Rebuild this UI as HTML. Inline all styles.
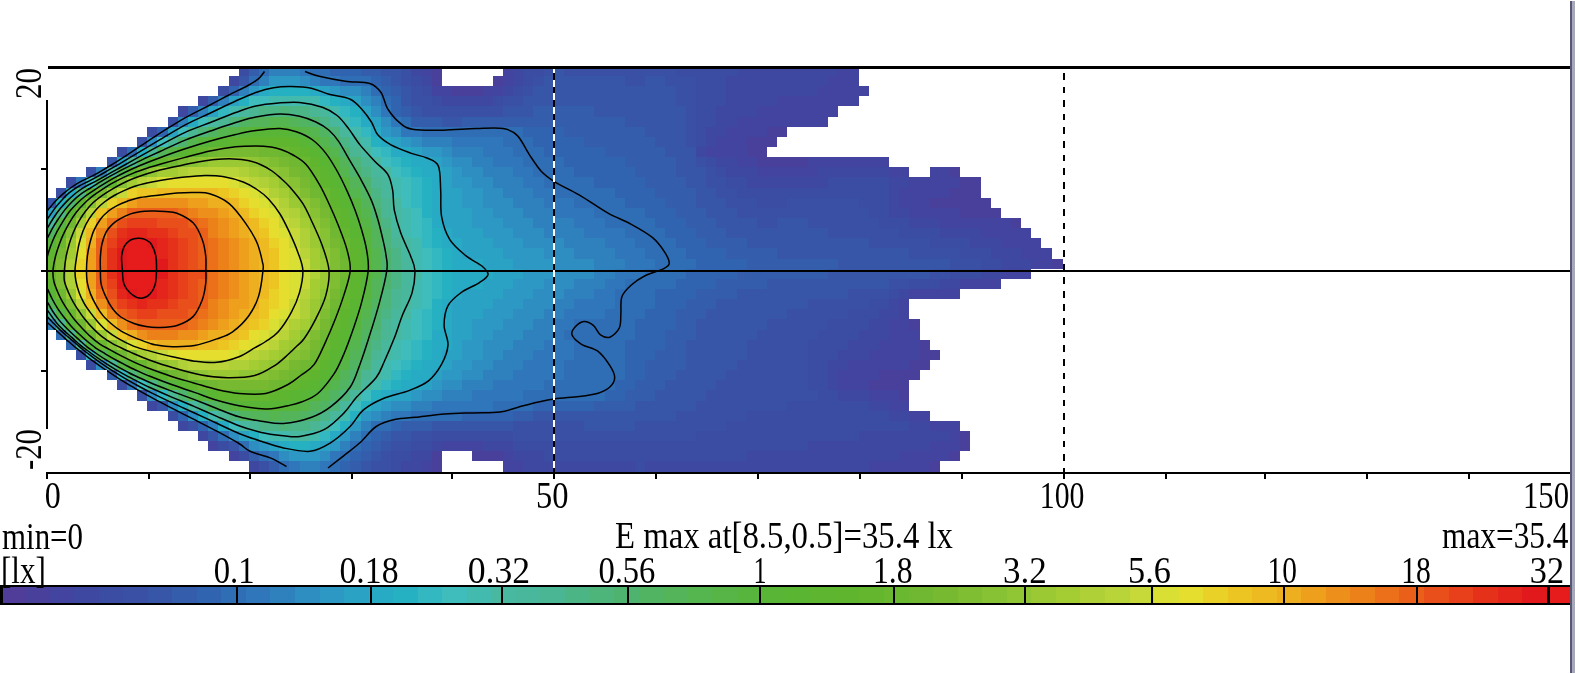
<!DOCTYPE html><html><head><meta charset="utf-8"><title>Isolux</title><style>html,body{margin:0;padding:0;background:#fff}svg{display:block}text{font-family:"Liberation Serif",serif;fill:#000}</style></head><body>
<svg width="1575" height="674" viewBox="0 0 1575 674">
<rect width="1575" height="674" fill="#fff"/>
<g shape-rendering="crispEdges">
<rect x="249" y="461" width="10" height="11" fill="#3e48a1"/>
<rect x="259" y="461" width="10" height="11" fill="#3950a4"/>
<rect x="269" y="461" width="10" height="11" fill="#345dac"/>
<rect x="279" y="461" width="10" height="11" fill="#2f6db5"/>
<rect x="289" y="461" width="11" height="11" fill="#2f77ba"/>
<rect x="300" y="461" width="20" height="11" fill="#2f81be"/>
<rect x="320" y="461" width="10" height="11" fill="#2f77ba"/>
<rect x="330" y="461" width="10" height="11" fill="#2f6db5"/>
<rect x="340" y="461" width="10" height="11" fill="#3064b1"/>
<rect x="350" y="461" width="11" height="11" fill="#345dac"/>
<rect x="361" y="461" width="10" height="11" fill="#3756a7"/>
<rect x="371" y="461" width="20" height="11" fill="#3950a4"/>
<rect x="391" y="461" width="10" height="11" fill="#3b4ca3"/>
<rect x="401" y="461" width="21" height="11" fill="#3e48a1"/>
<rect x="422" y="461" width="10" height="11" fill="#42449f"/>
<rect x="432" y="461" width="10" height="11" fill="#49409c"/>
<rect x="503" y="461" width="20" height="11" fill="#42449f"/>
<rect x="523" y="461" width="112" height="11" fill="#3e48a1"/>
<rect x="635" y="461" width="10" height="11" fill="#3b4ca3"/>
<rect x="645" y="461" width="224" height="11" fill="#3e48a1"/>
<rect x="869" y="461" width="61" height="11" fill="#42449f"/>
<rect x="930" y="461" width="10" height="11" fill="#49409c"/>
<rect x="229" y="451" width="10" height="10" fill="#42449f"/>
<rect x="239" y="451" width="10" height="10" fill="#3b4ca3"/>
<rect x="249" y="451" width="10" height="10" fill="#345dac"/>
<rect x="259" y="451" width="10" height="10" fill="#2f6db5"/>
<rect x="269" y="451" width="10" height="10" fill="#2f77ba"/>
<rect x="279" y="451" width="10" height="10" fill="#2e8dc1"/>
<rect x="289" y="451" width="31" height="10" fill="#2c98c3"/>
<rect x="320" y="451" width="10" height="10" fill="#2e8dc1"/>
<rect x="330" y="451" width="10" height="10" fill="#2f77ba"/>
<rect x="340" y="451" width="10" height="10" fill="#2f6db5"/>
<rect x="350" y="451" width="11" height="10" fill="#3064b1"/>
<rect x="361" y="451" width="10" height="10" fill="#345dac"/>
<rect x="371" y="451" width="10" height="10" fill="#3756a7"/>
<rect x="381" y="451" width="10" height="10" fill="#3950a4"/>
<rect x="391" y="451" width="20" height="10" fill="#3b4ca3"/>
<rect x="411" y="451" width="21" height="10" fill="#3e48a1"/>
<rect x="432" y="451" width="10" height="10" fill="#49409c"/>
<rect x="472" y="451" width="31" height="10" fill="#49409c"/>
<rect x="503" y="451" width="10" height="10" fill="#42449f"/>
<rect x="513" y="451" width="31" height="10" fill="#3e48a1"/>
<rect x="544" y="451" width="203" height="10" fill="#3b4ca3"/>
<rect x="747" y="451" width="152" height="10" fill="#3e48a1"/>
<rect x="899" y="451" width="51" height="10" fill="#42449f"/>
<rect x="950" y="451" width="10" height="10" fill="#49409c"/>
<rect x="208" y="441" width="10" height="10" fill="#42449f"/>
<rect x="218" y="441" width="11" height="10" fill="#3b4ca3"/>
<rect x="229" y="441" width="10" height="10" fill="#3756a7"/>
<rect x="239" y="441" width="10" height="10" fill="#2f6db5"/>
<rect x="249" y="441" width="10" height="10" fill="#2e8dc1"/>
<rect x="259" y="441" width="10" height="10" fill="#2c98c3"/>
<rect x="269" y="441" width="10" height="10" fill="#2aa2c4"/>
<rect x="279" y="441" width="10" height="10" fill="#27aac3"/>
<rect x="289" y="441" width="21" height="10" fill="#26b1c3"/>
<rect x="310" y="441" width="10" height="10" fill="#27aac3"/>
<rect x="320" y="441" width="10" height="10" fill="#2aa2c4"/>
<rect x="330" y="441" width="10" height="10" fill="#2c98c3"/>
<rect x="340" y="441" width="10" height="10" fill="#2f81be"/>
<rect x="350" y="441" width="11" height="10" fill="#2f6db5"/>
<rect x="361" y="441" width="10" height="10" fill="#3064b1"/>
<rect x="371" y="441" width="10" height="10" fill="#345dac"/>
<rect x="381" y="441" width="10" height="10" fill="#3756a7"/>
<rect x="391" y="441" width="20" height="10" fill="#3950a4"/>
<rect x="411" y="441" width="21" height="10" fill="#3b4ca3"/>
<rect x="432" y="441" width="10" height="10" fill="#3e48a1"/>
<rect x="442" y="441" width="41" height="10" fill="#42449f"/>
<rect x="483" y="441" width="30" height="10" fill="#3e48a1"/>
<rect x="513" y="441" width="295" height="10" fill="#3b4ca3"/>
<rect x="808" y="441" width="122" height="10" fill="#3e48a1"/>
<rect x="930" y="441" width="30" height="10" fill="#42449f"/>
<rect x="960" y="441" width="10" height="10" fill="#49409c"/>
<rect x="198" y="431" width="10" height="10" fill="#3e48a1"/>
<rect x="208" y="431" width="10" height="10" fill="#3756a7"/>
<rect x="218" y="431" width="11" height="10" fill="#2f6db5"/>
<rect x="229" y="431" width="10" height="10" fill="#2e8dc1"/>
<rect x="239" y="431" width="10" height="10" fill="#2aa2c4"/>
<rect x="249" y="431" width="10" height="10" fill="#26b1c3"/>
<rect x="259" y="431" width="10" height="10" fill="#3fbcbc"/>
<rect x="269" y="431" width="20" height="10" fill="#43baae"/>
<rect x="289" y="431" width="21" height="10" fill="#48b8a0"/>
<rect x="310" y="431" width="10" height="10" fill="#43baae"/>
<rect x="320" y="431" width="10" height="10" fill="#33b7c0"/>
<rect x="330" y="431" width="10" height="10" fill="#27aac3"/>
<rect x="340" y="431" width="10" height="10" fill="#2c98c3"/>
<rect x="350" y="431" width="11" height="10" fill="#2f81be"/>
<rect x="361" y="431" width="10" height="10" fill="#2f6db5"/>
<rect x="371" y="431" width="10" height="10" fill="#3064b1"/>
<rect x="381" y="431" width="10" height="10" fill="#345dac"/>
<rect x="391" y="431" width="20" height="10" fill="#3756a7"/>
<rect x="411" y="431" width="21" height="10" fill="#3950a4"/>
<rect x="432" y="431" width="81" height="10" fill="#3b4ca3"/>
<rect x="513" y="431" width="183" height="10" fill="#3950a4"/>
<rect x="696" y="431" width="163" height="10" fill="#3b4ca3"/>
<rect x="859" y="431" width="91" height="10" fill="#3e48a1"/>
<rect x="950" y="431" width="10" height="10" fill="#42449f"/>
<rect x="960" y="431" width="10" height="10" fill="#49409c"/>
<rect x="178" y="421" width="10" height="10" fill="#3e48a1"/>
<rect x="188" y="421" width="10" height="10" fill="#3950a4"/>
<rect x="198" y="421" width="10" height="10" fill="#3064b1"/>
<rect x="208" y="421" width="10" height="10" fill="#2f81be"/>
<rect x="218" y="421" width="11" height="10" fill="#27aac3"/>
<rect x="229" y="421" width="10" height="10" fill="#3fbcbc"/>
<rect x="239" y="421" width="10" height="10" fill="#48b8a0"/>
<rect x="249" y="421" width="10" height="10" fill="#4ab693"/>
<rect x="259" y="421" width="20" height="10" fill="#4bb586"/>
<rect x="279" y="421" width="10" height="10" fill="#4db47a"/>
<rect x="289" y="421" width="21" height="10" fill="#4bb586"/>
<rect x="310" y="421" width="10" height="10" fill="#4ab693"/>
<rect x="320" y="421" width="10" height="10" fill="#48b8a0"/>
<rect x="330" y="421" width="10" height="10" fill="#3fbcbc"/>
<rect x="340" y="421" width="10" height="10" fill="#26b1c3"/>
<rect x="350" y="421" width="11" height="10" fill="#2c98c3"/>
<rect x="361" y="421" width="10" height="10" fill="#2f81be"/>
<rect x="371" y="421" width="20" height="10" fill="#2f6db5"/>
<rect x="391" y="421" width="10" height="10" fill="#3064b1"/>
<rect x="401" y="421" width="31" height="10" fill="#345dac"/>
<rect x="432" y="421" width="81" height="10" fill="#3756a7"/>
<rect x="513" y="421" width="71" height="10" fill="#3950a4"/>
<rect x="584" y="421" width="51" height="10" fill="#3756a7"/>
<rect x="635" y="421" width="91" height="10" fill="#3950a4"/>
<rect x="726" y="421" width="183" height="10" fill="#3b4ca3"/>
<rect x="909" y="421" width="21" height="10" fill="#3e48a1"/>
<rect x="930" y="421" width="30" height="10" fill="#42449f"/>
<rect x="168" y="411" width="10" height="10" fill="#3b4ca3"/>
<rect x="178" y="411" width="10" height="10" fill="#3064b1"/>
<rect x="188" y="411" width="10" height="10" fill="#2e8dc1"/>
<rect x="198" y="411" width="10" height="10" fill="#26b1c3"/>
<rect x="208" y="411" width="10" height="10" fill="#43baae"/>
<rect x="218" y="411" width="11" height="10" fill="#4ab693"/>
<rect x="229" y="411" width="10" height="10" fill="#4db47a"/>
<rect x="239" y="411" width="10" height="10" fill="#51b463"/>
<rect x="249" y="411" width="20" height="10" fill="#53b459"/>
<rect x="269" y="411" width="10" height="10" fill="#55b54e"/>
<rect x="279" y="411" width="21" height="10" fill="#53b459"/>
<rect x="300" y="411" width="10" height="10" fill="#51b463"/>
<rect x="310" y="411" width="10" height="10" fill="#4eb36e"/>
<rect x="320" y="411" width="10" height="10" fill="#4bb586"/>
<rect x="330" y="411" width="10" height="10" fill="#49b79b"/>
<rect x="340" y="411" width="10" height="10" fill="#43baae"/>
<rect x="350" y="411" width="11" height="10" fill="#26b1c3"/>
<rect x="361" y="411" width="10" height="10" fill="#2c98c3"/>
<rect x="371" y="411" width="10" height="10" fill="#2e8dc1"/>
<rect x="381" y="411" width="10" height="10" fill="#2f81be"/>
<rect x="391" y="411" width="20" height="10" fill="#2f77ba"/>
<rect x="411" y="411" width="51" height="10" fill="#2f6db5"/>
<rect x="462" y="411" width="51" height="10" fill="#3064b1"/>
<rect x="513" y="411" width="20" height="10" fill="#345dac"/>
<rect x="533" y="411" width="143" height="10" fill="#3756a7"/>
<rect x="676" y="411" width="71" height="10" fill="#3950a4"/>
<rect x="747" y="411" width="142" height="10" fill="#3b4ca3"/>
<rect x="889" y="411" width="20" height="10" fill="#3e48a1"/>
<rect x="909" y="411" width="21" height="10" fill="#42449f"/>
<rect x="147" y="401" width="10" height="10" fill="#3e48a1"/>
<rect x="157" y="401" width="11" height="10" fill="#3756a7"/>
<rect x="168" y="401" width="10" height="10" fill="#2e8dc1"/>
<rect x="178" y="401" width="10" height="10" fill="#26b1c3"/>
<rect x="188" y="401" width="10" height="10" fill="#48b8a0"/>
<rect x="198" y="401" width="10" height="10" fill="#4bb586"/>
<rect x="208" y="401" width="10" height="10" fill="#51b463"/>
<rect x="218" y="401" width="11" height="10" fill="#55b54e"/>
<rect x="229" y="401" width="10" height="10" fill="#57b53d"/>
<rect x="239" y="401" width="50" height="10" fill="#58b535"/>
<rect x="289" y="401" width="11" height="10" fill="#57b53d"/>
<rect x="300" y="401" width="10" height="10" fill="#56b546"/>
<rect x="310" y="401" width="10" height="10" fill="#53b459"/>
<rect x="320" y="401" width="10" height="10" fill="#51b463"/>
<rect x="330" y="401" width="10" height="10" fill="#4db47a"/>
<rect x="340" y="401" width="10" height="10" fill="#49b79b"/>
<rect x="350" y="401" width="11" height="10" fill="#3fbcbc"/>
<rect x="361" y="401" width="10" height="10" fill="#26b1c3"/>
<rect x="371" y="401" width="10" height="10" fill="#2aa2c4"/>
<rect x="381" y="401" width="10" height="10" fill="#2c98c3"/>
<rect x="391" y="401" width="20" height="10" fill="#2e8dc1"/>
<rect x="411" y="401" width="21" height="10" fill="#2f81be"/>
<rect x="432" y="401" width="61" height="10" fill="#2f77ba"/>
<rect x="493" y="401" width="40" height="10" fill="#2f6db5"/>
<rect x="533" y="401" width="61" height="10" fill="#3064b1"/>
<rect x="594" y="401" width="41" height="10" fill="#345dac"/>
<rect x="635" y="401" width="61" height="10" fill="#3756a7"/>
<rect x="696" y="401" width="91" height="10" fill="#3950a4"/>
<rect x="787" y="401" width="82" height="10" fill="#3b4ca3"/>
<rect x="869" y="401" width="20" height="10" fill="#3e48a1"/>
<rect x="889" y="401" width="20" height="10" fill="#42449f"/>
<rect x="137" y="390" width="10" height="11" fill="#3950a4"/>
<rect x="147" y="390" width="10" height="11" fill="#2e8dc1"/>
<rect x="157" y="390" width="11" height="11" fill="#33b7c0"/>
<rect x="168" y="390" width="10" height="11" fill="#4ab693"/>
<rect x="178" y="390" width="10" height="11" fill="#4eb36e"/>
<rect x="188" y="390" width="10" height="11" fill="#55b54e"/>
<rect x="198" y="390" width="10" height="11" fill="#57b53d"/>
<rect x="208" y="390" width="10" height="11" fill="#5ab533"/>
<rect x="218" y="390" width="21" height="11" fill="#5fb52e"/>
<rect x="239" y="390" width="30" height="11" fill="#65b62f"/>
<rect x="269" y="390" width="10" height="11" fill="#5fb52e"/>
<rect x="279" y="390" width="10" height="11" fill="#5db530"/>
<rect x="289" y="390" width="11" height="11" fill="#5ab533"/>
<rect x="300" y="390" width="10" height="11" fill="#58b535"/>
<rect x="310" y="390" width="10" height="11" fill="#57b53d"/>
<rect x="320" y="390" width="10" height="11" fill="#55b54e"/>
<rect x="330" y="390" width="10" height="11" fill="#51b463"/>
<rect x="340" y="390" width="10" height="11" fill="#4db47a"/>
<rect x="350" y="390" width="11" height="11" fill="#49b79b"/>
<rect x="361" y="390" width="10" height="11" fill="#3fbcbc"/>
<rect x="371" y="390" width="10" height="11" fill="#26b1c3"/>
<rect x="381" y="390" width="10" height="11" fill="#27aac3"/>
<rect x="391" y="390" width="20" height="11" fill="#2aa2c4"/>
<rect x="411" y="390" width="11" height="11" fill="#2c98c3"/>
<rect x="422" y="390" width="20" height="11" fill="#2e8dc1"/>
<rect x="442" y="390" width="30" height="11" fill="#2f81be"/>
<rect x="472" y="390" width="51" height="11" fill="#2f77ba"/>
<rect x="523" y="390" width="82" height="11" fill="#2f6db5"/>
<rect x="605" y="390" width="20" height="11" fill="#3064b1"/>
<rect x="625" y="390" width="30" height="11" fill="#345dac"/>
<rect x="655" y="390" width="51" height="11" fill="#3756a7"/>
<rect x="706" y="390" width="112" height="11" fill="#3950a4"/>
<rect x="818" y="390" width="20" height="11" fill="#3b4ca3"/>
<rect x="838" y="390" width="31" height="11" fill="#3e48a1"/>
<rect x="869" y="390" width="30" height="11" fill="#42449f"/>
<rect x="899" y="390" width="10" height="11" fill="#49409c"/>
<rect x="117" y="380" width="10" height="10" fill="#3b4ca3"/>
<rect x="127" y="380" width="10" height="10" fill="#2f77ba"/>
<rect x="137" y="380" width="10" height="10" fill="#3fbcbc"/>
<rect x="147" y="380" width="10" height="10" fill="#4bb586"/>
<rect x="157" y="380" width="11" height="10" fill="#53b459"/>
<rect x="168" y="380" width="10" height="10" fill="#57b53d"/>
<rect x="178" y="380" width="10" height="10" fill="#5ab533"/>
<rect x="188" y="380" width="10" height="10" fill="#5fb52e"/>
<rect x="198" y="380" width="10" height="10" fill="#6ab730"/>
<rect x="208" y="380" width="10" height="10" fill="#70b831"/>
<rect x="218" y="380" width="51" height="10" fill="#77ba32"/>
<rect x="269" y="380" width="10" height="10" fill="#70b831"/>
<rect x="279" y="380" width="10" height="10" fill="#6ab730"/>
<rect x="289" y="380" width="11" height="10" fill="#65b62f"/>
<rect x="300" y="380" width="10" height="10" fill="#5db530"/>
<rect x="310" y="380" width="10" height="10" fill="#5ab533"/>
<rect x="320" y="380" width="10" height="10" fill="#57b53d"/>
<rect x="330" y="380" width="10" height="10" fill="#55b54e"/>
<rect x="340" y="380" width="10" height="10" fill="#51b463"/>
<rect x="350" y="380" width="11" height="10" fill="#4db47a"/>
<rect x="361" y="380" width="10" height="10" fill="#49b79b"/>
<rect x="371" y="380" width="10" height="10" fill="#43baae"/>
<rect x="381" y="380" width="10" height="10" fill="#33b7c0"/>
<rect x="391" y="380" width="10" height="10" fill="#26b1c3"/>
<rect x="401" y="380" width="21" height="10" fill="#27aac3"/>
<rect x="422" y="380" width="10" height="10" fill="#2aa2c4"/>
<rect x="432" y="380" width="10" height="10" fill="#2c98c3"/>
<rect x="442" y="380" width="20" height="10" fill="#2e8dc1"/>
<rect x="462" y="380" width="31" height="10" fill="#2f81be"/>
<rect x="493" y="380" width="51" height="10" fill="#2f77ba"/>
<rect x="544" y="380" width="71" height="10" fill="#2f6db5"/>
<rect x="615" y="380" width="20" height="10" fill="#3064b1"/>
<rect x="635" y="380" width="30" height="10" fill="#345dac"/>
<rect x="665" y="380" width="51" height="10" fill="#3756a7"/>
<rect x="716" y="380" width="92" height="10" fill="#3950a4"/>
<rect x="808" y="380" width="20" height="10" fill="#3b4ca3"/>
<rect x="828" y="380" width="10" height="10" fill="#3e48a1"/>
<rect x="838" y="380" width="31" height="10" fill="#42449f"/>
<rect x="869" y="380" width="40" height="10" fill="#49409c"/>
<rect x="107" y="370" width="10" height="10" fill="#345dac"/>
<rect x="117" y="370" width="10" height="10" fill="#33b7c0"/>
<rect x="127" y="370" width="10" height="10" fill="#4db47a"/>
<rect x="137" y="370" width="10" height="10" fill="#55b54e"/>
<rect x="147" y="370" width="10" height="10" fill="#5ab533"/>
<rect x="157" y="370" width="11" height="10" fill="#5fb52e"/>
<rect x="168" y="370" width="10" height="10" fill="#70b831"/>
<rect x="178" y="370" width="10" height="10" fill="#77ba32"/>
<rect x="188" y="370" width="10" height="10" fill="#87c134"/>
<rect x="198" y="370" width="10" height="10" fill="#90c534"/>
<rect x="208" y="370" width="31" height="10" fill="#9ac933"/>
<rect x="239" y="370" width="20" height="10" fill="#90c534"/>
<rect x="259" y="370" width="10" height="10" fill="#87c134"/>
<rect x="269" y="370" width="10" height="10" fill="#7fbe33"/>
<rect x="279" y="370" width="10" height="10" fill="#77ba32"/>
<rect x="289" y="370" width="11" height="10" fill="#70b831"/>
<rect x="300" y="370" width="10" height="10" fill="#65b62f"/>
<rect x="310" y="370" width="10" height="10" fill="#5fb52e"/>
<rect x="320" y="370" width="10" height="10" fill="#5ab533"/>
<rect x="330" y="370" width="10" height="10" fill="#57b53d"/>
<rect x="340" y="370" width="10" height="10" fill="#53b459"/>
<rect x="350" y="370" width="11" height="10" fill="#4eb36e"/>
<rect x="361" y="370" width="10" height="10" fill="#4ab693"/>
<rect x="371" y="370" width="10" height="10" fill="#48b8a0"/>
<rect x="381" y="370" width="10" height="10" fill="#43baae"/>
<rect x="391" y="370" width="10" height="10" fill="#33b7c0"/>
<rect x="401" y="370" width="10" height="10" fill="#26b1c3"/>
<rect x="411" y="370" width="21" height="10" fill="#27aac3"/>
<rect x="432" y="370" width="10" height="10" fill="#2aa2c4"/>
<rect x="442" y="370" width="20" height="10" fill="#2c98c3"/>
<rect x="462" y="370" width="21" height="10" fill="#2e8dc1"/>
<rect x="483" y="370" width="30" height="10" fill="#2f81be"/>
<rect x="513" y="370" width="51" height="10" fill="#2f77ba"/>
<rect x="564" y="370" width="61" height="10" fill="#2f6db5"/>
<rect x="625" y="370" width="20" height="10" fill="#3064b1"/>
<rect x="645" y="370" width="31" height="10" fill="#345dac"/>
<rect x="676" y="370" width="50" height="10" fill="#3756a7"/>
<rect x="726" y="370" width="82" height="10" fill="#3950a4"/>
<rect x="808" y="370" width="20" height="10" fill="#3b4ca3"/>
<rect x="828" y="370" width="10" height="10" fill="#3e48a1"/>
<rect x="838" y="370" width="41" height="10" fill="#42449f"/>
<rect x="879" y="370" width="41" height="10" fill="#49409c"/>
<rect x="86" y="360" width="10" height="10" fill="#3b4ca3"/>
<rect x="96" y="360" width="11" height="10" fill="#2e8dc1"/>
<rect x="107" y="360" width="10" height="10" fill="#4ab693"/>
<rect x="117" y="360" width="10" height="10" fill="#56b546"/>
<rect x="127" y="360" width="10" height="10" fill="#5db530"/>
<rect x="137" y="360" width="10" height="10" fill="#6ab730"/>
<rect x="147" y="360" width="10" height="10" fill="#7fbe33"/>
<rect x="157" y="360" width="11" height="10" fill="#90c534"/>
<rect x="168" y="360" width="10" height="10" fill="#9ac933"/>
<rect x="178" y="360" width="10" height="10" fill="#afd036"/>
<rect x="188" y="360" width="41" height="10" fill="#b9d439"/>
<rect x="229" y="360" width="20" height="10" fill="#afd036"/>
<rect x="249" y="360" width="10" height="10" fill="#a4cd34"/>
<rect x="259" y="360" width="10" height="10" fill="#9ac933"/>
<rect x="269" y="360" width="10" height="10" fill="#90c534"/>
<rect x="279" y="360" width="10" height="10" fill="#87c134"/>
<rect x="289" y="360" width="11" height="10" fill="#77ba32"/>
<rect x="300" y="360" width="10" height="10" fill="#70b831"/>
<rect x="310" y="360" width="10" height="10" fill="#6ab730"/>
<rect x="320" y="360" width="10" height="10" fill="#5db530"/>
<rect x="330" y="360" width="10" height="10" fill="#58b535"/>
<rect x="340" y="360" width="10" height="10" fill="#56b546"/>
<rect x="350" y="360" width="11" height="10" fill="#51b463"/>
<rect x="361" y="360" width="10" height="10" fill="#4db47a"/>
<rect x="371" y="360" width="10" height="10" fill="#49b79b"/>
<rect x="381" y="360" width="10" height="10" fill="#43baae"/>
<rect x="391" y="360" width="10" height="10" fill="#3fbcbc"/>
<rect x="401" y="360" width="10" height="10" fill="#33b7c0"/>
<rect x="411" y="360" width="11" height="10" fill="#26b1c3"/>
<rect x="422" y="360" width="20" height="10" fill="#27aac3"/>
<rect x="442" y="360" width="10" height="10" fill="#2aa2c4"/>
<rect x="452" y="360" width="20" height="10" fill="#2c98c3"/>
<rect x="472" y="360" width="21" height="10" fill="#2e8dc1"/>
<rect x="493" y="360" width="30" height="10" fill="#2f81be"/>
<rect x="523" y="360" width="41" height="10" fill="#2f77ba"/>
<rect x="564" y="360" width="61" height="10" fill="#2f6db5"/>
<rect x="625" y="360" width="20" height="10" fill="#3064b1"/>
<rect x="645" y="360" width="41" height="10" fill="#345dac"/>
<rect x="686" y="360" width="51" height="10" fill="#3756a7"/>
<rect x="737" y="360" width="71" height="10" fill="#3950a4"/>
<rect x="808" y="360" width="20" height="10" fill="#3b4ca3"/>
<rect x="828" y="360" width="20" height="10" fill="#3e48a1"/>
<rect x="848" y="360" width="61" height="10" fill="#42449f"/>
<rect x="909" y="360" width="21" height="10" fill="#49409c"/>
<rect x="76" y="350" width="10" height="10" fill="#3950a4"/>
<rect x="86" y="350" width="10" height="10" fill="#33b7c0"/>
<rect x="96" y="350" width="11" height="10" fill="#53b459"/>
<rect x="107" y="350" width="10" height="10" fill="#5ab533"/>
<rect x="117" y="350" width="10" height="10" fill="#70b831"/>
<rect x="127" y="350" width="10" height="10" fill="#87c134"/>
<rect x="137" y="350" width="10" height="10" fill="#a4cd34"/>
<rect x="147" y="350" width="10" height="10" fill="#afd036"/>
<rect x="157" y="350" width="11" height="10" fill="#c7d938"/>
<rect x="168" y="350" width="10" height="10" fill="#d9df33"/>
<rect x="178" y="350" width="51" height="10" fill="#e6de2e"/>
<rect x="229" y="350" width="10" height="10" fill="#d9df33"/>
<rect x="239" y="350" width="10" height="10" fill="#c7d938"/>
<rect x="249" y="350" width="10" height="10" fill="#b9d439"/>
<rect x="259" y="350" width="10" height="10" fill="#afd036"/>
<rect x="269" y="350" width="10" height="10" fill="#a4cd34"/>
<rect x="279" y="350" width="10" height="10" fill="#9ac933"/>
<rect x="289" y="350" width="11" height="10" fill="#87c134"/>
<rect x="300" y="350" width="10" height="10" fill="#7fbe33"/>
<rect x="310" y="350" width="10" height="10" fill="#70b831"/>
<rect x="320" y="350" width="10" height="10" fill="#65b62f"/>
<rect x="330" y="350" width="10" height="10" fill="#5ab533"/>
<rect x="340" y="350" width="10" height="10" fill="#57b53d"/>
<rect x="350" y="350" width="11" height="10" fill="#53b459"/>
<rect x="361" y="350" width="10" height="10" fill="#4eb36e"/>
<rect x="371" y="350" width="10" height="10" fill="#4ab693"/>
<rect x="381" y="350" width="10" height="10" fill="#48b8a0"/>
<rect x="391" y="350" width="10" height="10" fill="#43baae"/>
<rect x="401" y="350" width="10" height="10" fill="#3fbcbc"/>
<rect x="411" y="350" width="11" height="10" fill="#33b7c0"/>
<rect x="422" y="350" width="10" height="10" fill="#26b1c3"/>
<rect x="432" y="350" width="10" height="10" fill="#27aac3"/>
<rect x="442" y="350" width="20" height="10" fill="#2aa2c4"/>
<rect x="462" y="350" width="21" height="10" fill="#2c98c3"/>
<rect x="483" y="350" width="20" height="10" fill="#2e8dc1"/>
<rect x="503" y="350" width="30" height="10" fill="#2f81be"/>
<rect x="533" y="350" width="41" height="10" fill="#2f77ba"/>
<rect x="574" y="350" width="51" height="10" fill="#2f6db5"/>
<rect x="625" y="350" width="30" height="10" fill="#3064b1"/>
<rect x="655" y="350" width="31" height="10" fill="#345dac"/>
<rect x="686" y="350" width="61" height="10" fill="#3756a7"/>
<rect x="747" y="350" width="61" height="10" fill="#3950a4"/>
<rect x="808" y="350" width="30" height="10" fill="#3b4ca3"/>
<rect x="838" y="350" width="31" height="10" fill="#3e48a1"/>
<rect x="869" y="350" width="51" height="10" fill="#42449f"/>
<rect x="920" y="350" width="20" height="10" fill="#49409c"/>
<rect x="66" y="340" width="10" height="10" fill="#3064b1"/>
<rect x="76" y="340" width="10" height="10" fill="#48b8a0"/>
<rect x="86" y="340" width="10" height="10" fill="#57b53d"/>
<rect x="96" y="340" width="11" height="10" fill="#6ab730"/>
<rect x="107" y="340" width="10" height="10" fill="#87c134"/>
<rect x="117" y="340" width="10" height="10" fill="#a4cd34"/>
<rect x="127" y="340" width="10" height="10" fill="#d9df33"/>
<rect x="137" y="340" width="10" height="10" fill="#ead127"/>
<rect x="147" y="340" width="10" height="10" fill="#edbb21"/>
<rect x="157" y="340" width="41" height="10" fill="#edae1f"/>
<rect x="198" y="340" width="20" height="10" fill="#edbb21"/>
<rect x="218" y="340" width="11" height="10" fill="#edc522"/>
<rect x="229" y="340" width="10" height="10" fill="#ead127"/>
<rect x="239" y="340" width="10" height="10" fill="#e6de2e"/>
<rect x="249" y="340" width="10" height="10" fill="#d9df33"/>
<rect x="259" y="340" width="10" height="10" fill="#c7d938"/>
<rect x="269" y="340" width="10" height="10" fill="#b9d439"/>
<rect x="279" y="340" width="10" height="10" fill="#a4cd34"/>
<rect x="289" y="340" width="11" height="10" fill="#9ac933"/>
<rect x="300" y="340" width="10" height="10" fill="#87c134"/>
<rect x="310" y="340" width="10" height="10" fill="#77ba32"/>
<rect x="320" y="340" width="10" height="10" fill="#6ab730"/>
<rect x="330" y="340" width="10" height="10" fill="#5db530"/>
<rect x="340" y="340" width="10" height="10" fill="#58b535"/>
<rect x="350" y="340" width="11" height="10" fill="#55b54e"/>
<rect x="361" y="340" width="10" height="10" fill="#4eb36e"/>
<rect x="371" y="340" width="10" height="10" fill="#4bb586"/>
<rect x="381" y="340" width="10" height="10" fill="#49b79b"/>
<rect x="391" y="340" width="10" height="10" fill="#43baae"/>
<rect x="401" y="340" width="10" height="10" fill="#3fbcbc"/>
<rect x="411" y="340" width="11" height="10" fill="#33b7c0"/>
<rect x="422" y="340" width="10" height="10" fill="#26b1c3"/>
<rect x="432" y="340" width="20" height="10" fill="#27aac3"/>
<rect x="452" y="340" width="10" height="10" fill="#2aa2c4"/>
<rect x="462" y="340" width="21" height="10" fill="#2c98c3"/>
<rect x="483" y="340" width="30" height="10" fill="#2e8dc1"/>
<rect x="513" y="340" width="31" height="10" fill="#2f81be"/>
<rect x="544" y="340" width="30" height="10" fill="#2f77ba"/>
<rect x="574" y="340" width="51" height="10" fill="#2f6db5"/>
<rect x="625" y="340" width="40" height="10" fill="#3064b1"/>
<rect x="665" y="340" width="21" height="10" fill="#345dac"/>
<rect x="686" y="340" width="61" height="10" fill="#3756a7"/>
<rect x="747" y="340" width="61" height="10" fill="#3950a4"/>
<rect x="808" y="340" width="40" height="10" fill="#3b4ca3"/>
<rect x="848" y="340" width="31" height="10" fill="#3e48a1"/>
<rect x="879" y="340" width="41" height="10" fill="#42449f"/>
<rect x="920" y="340" width="10" height="10" fill="#49409c"/>
<rect x="56" y="330" width="10" height="10" fill="#2f6db5"/>
<rect x="66" y="330" width="10" height="10" fill="#4ab693"/>
<rect x="76" y="330" width="10" height="10" fill="#58b535"/>
<rect x="86" y="330" width="10" height="10" fill="#70b831"/>
<rect x="96" y="330" width="11" height="10" fill="#9ac933"/>
<rect x="107" y="330" width="10" height="10" fill="#c7d938"/>
<rect x="117" y="330" width="10" height="10" fill="#edc522"/>
<rect x="127" y="330" width="10" height="10" fill="#edae1f"/>
<rect x="137" y="330" width="10" height="10" fill="#ed901b"/>
<rect x="147" y="330" width="31" height="10" fill="#ec8119"/>
<rect x="178" y="330" width="20" height="10" fill="#ed901b"/>
<rect x="198" y="330" width="10" height="10" fill="#eea01d"/>
<rect x="208" y="330" width="21" height="10" fill="#edae1f"/>
<rect x="229" y="330" width="10" height="10" fill="#edbb21"/>
<rect x="239" y="330" width="10" height="10" fill="#edc522"/>
<rect x="249" y="330" width="10" height="10" fill="#e6de2e"/>
<rect x="259" y="330" width="10" height="10" fill="#d9df33"/>
<rect x="269" y="330" width="10" height="10" fill="#c7d938"/>
<rect x="279" y="330" width="10" height="10" fill="#b9d439"/>
<rect x="289" y="330" width="11" height="10" fill="#a4cd34"/>
<rect x="300" y="330" width="10" height="10" fill="#90c534"/>
<rect x="310" y="330" width="10" height="10" fill="#7fbe33"/>
<rect x="320" y="330" width="10" height="10" fill="#70b831"/>
<rect x="330" y="330" width="10" height="10" fill="#5fb52e"/>
<rect x="340" y="330" width="10" height="10" fill="#5ab533"/>
<rect x="350" y="330" width="11" height="10" fill="#56b546"/>
<rect x="361" y="330" width="10" height="10" fill="#51b463"/>
<rect x="371" y="330" width="10" height="10" fill="#4db47a"/>
<rect x="381" y="330" width="10" height="10" fill="#4ab693"/>
<rect x="391" y="330" width="10" height="10" fill="#48b8a0"/>
<rect x="401" y="330" width="10" height="10" fill="#43baae"/>
<rect x="411" y="330" width="11" height="10" fill="#3fbcbc"/>
<rect x="422" y="330" width="10" height="10" fill="#33b7c0"/>
<rect x="432" y="330" width="20" height="10" fill="#27aac3"/>
<rect x="452" y="330" width="20" height="10" fill="#2aa2c4"/>
<rect x="472" y="330" width="21" height="10" fill="#2c98c3"/>
<rect x="493" y="330" width="30" height="10" fill="#2e8dc1"/>
<rect x="523" y="330" width="31" height="10" fill="#2f81be"/>
<rect x="554" y="330" width="10" height="10" fill="#2f77ba"/>
<rect x="564" y="330" width="71" height="10" fill="#2f6db5"/>
<rect x="635" y="330" width="30" height="10" fill="#3064b1"/>
<rect x="665" y="330" width="31" height="10" fill="#345dac"/>
<rect x="696" y="330" width="61" height="10" fill="#3756a7"/>
<rect x="757" y="330" width="61" height="10" fill="#3950a4"/>
<rect x="818" y="330" width="41" height="10" fill="#3b4ca3"/>
<rect x="859" y="330" width="30" height="10" fill="#3e48a1"/>
<rect x="889" y="330" width="31" height="10" fill="#42449f"/>
<rect x="46" y="319" width="10" height="11" fill="#2f81be"/>
<rect x="56" y="319" width="10" height="11" fill="#4ab693"/>
<rect x="66" y="319" width="10" height="11" fill="#58b535"/>
<rect x="76" y="319" width="10" height="11" fill="#70b831"/>
<rect x="86" y="319" width="10" height="11" fill="#9ac933"/>
<rect x="96" y="319" width="11" height="11" fill="#d9df33"/>
<rect x="107" y="319" width="10" height="11" fill="#edbb21"/>
<rect x="117" y="319" width="10" height="11" fill="#ed901b"/>
<rect x="127" y="319" width="10" height="11" fill="#eb7019"/>
<rect x="137" y="319" width="51" height="11" fill="#ea5f1a"/>
<rect x="188" y="319" width="10" height="11" fill="#eb7019"/>
<rect x="198" y="319" width="10" height="11" fill="#ec8119"/>
<rect x="208" y="319" width="10" height="11" fill="#ed901b"/>
<rect x="218" y="319" width="11" height="11" fill="#eea01d"/>
<rect x="229" y="319" width="10" height="11" fill="#edae1f"/>
<rect x="239" y="319" width="10" height="11" fill="#edbb21"/>
<rect x="249" y="319" width="10" height="11" fill="#edc522"/>
<rect x="259" y="319" width="10" height="11" fill="#ead127"/>
<rect x="269" y="319" width="10" height="11" fill="#d9df33"/>
<rect x="279" y="319" width="10" height="11" fill="#c7d938"/>
<rect x="289" y="319" width="11" height="11" fill="#afd036"/>
<rect x="300" y="319" width="10" height="11" fill="#a4cd34"/>
<rect x="310" y="319" width="10" height="11" fill="#90c534"/>
<rect x="320" y="319" width="10" height="11" fill="#77ba32"/>
<rect x="330" y="319" width="10" height="11" fill="#65b62f"/>
<rect x="340" y="319" width="10" height="11" fill="#5db530"/>
<rect x="350" y="319" width="11" height="11" fill="#57b53d"/>
<rect x="361" y="319" width="10" height="11" fill="#53b459"/>
<rect x="371" y="319" width="10" height="11" fill="#4eb36e"/>
<rect x="381" y="319" width="10" height="11" fill="#4ab693"/>
<rect x="391" y="319" width="10" height="11" fill="#48b8a0"/>
<rect x="401" y="319" width="10" height="11" fill="#43baae"/>
<rect x="411" y="319" width="11" height="11" fill="#3fbcbc"/>
<rect x="422" y="319" width="10" height="11" fill="#33b7c0"/>
<rect x="432" y="319" width="10" height="11" fill="#26b1c3"/>
<rect x="442" y="319" width="10" height="11" fill="#27aac3"/>
<rect x="452" y="319" width="20" height="11" fill="#2aa2c4"/>
<rect x="472" y="319" width="31" height="11" fill="#2c98c3"/>
<rect x="503" y="319" width="30" height="11" fill="#2e8dc1"/>
<rect x="533" y="319" width="21" height="11" fill="#2f81be"/>
<rect x="554" y="319" width="20" height="11" fill="#2f77ba"/>
<rect x="574" y="319" width="61" height="11" fill="#2f6db5"/>
<rect x="635" y="319" width="41" height="11" fill="#3064b1"/>
<rect x="676" y="319" width="20" height="11" fill="#345dac"/>
<rect x="696" y="319" width="71" height="11" fill="#3756a7"/>
<rect x="767" y="319" width="61" height="11" fill="#3950a4"/>
<rect x="828" y="319" width="41" height="11" fill="#3b4ca3"/>
<rect x="869" y="319" width="20" height="11" fill="#3e48a1"/>
<rect x="889" y="319" width="20" height="11" fill="#42449f"/>
<rect x="909" y="319" width="11" height="11" fill="#49409c"/>
<rect x="46" y="309" width="10" height="10" fill="#49b79b"/>
<rect x="56" y="309" width="10" height="10" fill="#56b546"/>
<rect x="66" y="309" width="10" height="10" fill="#6ab730"/>
<rect x="76" y="309" width="10" height="10" fill="#90c534"/>
<rect x="86" y="309" width="10" height="10" fill="#c7d938"/>
<rect x="96" y="309" width="11" height="10" fill="#edbb21"/>
<rect x="107" y="309" width="10" height="10" fill="#ec8119"/>
<rect x="117" y="309" width="10" height="10" fill="#ea5f1a"/>
<rect x="127" y="309" width="10" height="10" fill="#e84f1b"/>
<rect x="137" y="309" width="20" height="10" fill="#e7401a"/>
<rect x="157" y="309" width="31" height="10" fill="#e84f1b"/>
<rect x="188" y="309" width="10" height="10" fill="#ea5f1a"/>
<rect x="198" y="309" width="10" height="10" fill="#eb7019"/>
<rect x="208" y="309" width="10" height="10" fill="#ec8119"/>
<rect x="218" y="309" width="11" height="10" fill="#ed901b"/>
<rect x="229" y="309" width="10" height="10" fill="#eea01d"/>
<rect x="239" y="309" width="10" height="10" fill="#edae1f"/>
<rect x="249" y="309" width="10" height="10" fill="#edbb21"/>
<rect x="259" y="309" width="10" height="10" fill="#edc522"/>
<rect x="269" y="309" width="10" height="10" fill="#e6de2e"/>
<rect x="279" y="309" width="10" height="10" fill="#d9df33"/>
<rect x="289" y="309" width="11" height="10" fill="#c7d938"/>
<rect x="300" y="309" width="10" height="10" fill="#afd036"/>
<rect x="310" y="309" width="10" height="10" fill="#9ac933"/>
<rect x="320" y="309" width="10" height="10" fill="#7fbe33"/>
<rect x="330" y="309" width="10" height="10" fill="#6ab730"/>
<rect x="340" y="309" width="10" height="10" fill="#5fb52e"/>
<rect x="350" y="309" width="11" height="10" fill="#58b535"/>
<rect x="361" y="309" width="10" height="10" fill="#55b54e"/>
<rect x="371" y="309" width="10" height="10" fill="#4eb36e"/>
<rect x="381" y="309" width="10" height="10" fill="#4bb586"/>
<rect x="391" y="309" width="10" height="10" fill="#49b79b"/>
<rect x="401" y="309" width="10" height="10" fill="#48b8a0"/>
<rect x="411" y="309" width="11" height="10" fill="#3fbcbc"/>
<rect x="422" y="309" width="10" height="10" fill="#33b7c0"/>
<rect x="432" y="309" width="10" height="10" fill="#26b1c3"/>
<rect x="442" y="309" width="10" height="10" fill="#27aac3"/>
<rect x="452" y="309" width="31" height="10" fill="#2aa2c4"/>
<rect x="483" y="309" width="30" height="10" fill="#2c98c3"/>
<rect x="513" y="309" width="31" height="10" fill="#2e8dc1"/>
<rect x="544" y="309" width="20" height="10" fill="#2f81be"/>
<rect x="564" y="309" width="41" height="10" fill="#2f77ba"/>
<rect x="605" y="309" width="40" height="10" fill="#2f6db5"/>
<rect x="645" y="309" width="31" height="10" fill="#3064b1"/>
<rect x="676" y="309" width="30" height="10" fill="#345dac"/>
<rect x="706" y="309" width="81" height="10" fill="#3756a7"/>
<rect x="787" y="309" width="61" height="10" fill="#3950a4"/>
<rect x="848" y="309" width="31" height="10" fill="#3b4ca3"/>
<rect x="879" y="309" width="20" height="10" fill="#3e48a1"/>
<rect x="899" y="309" width="10" height="10" fill="#42449f"/>
<rect x="46" y="299" width="10" height="10" fill="#53b459"/>
<rect x="56" y="299" width="10" height="10" fill="#5fb52e"/>
<rect x="66" y="299" width="10" height="10" fill="#7fbe33"/>
<rect x="76" y="299" width="10" height="10" fill="#b9d439"/>
<rect x="86" y="299" width="10" height="10" fill="#edc522"/>
<rect x="96" y="299" width="11" height="10" fill="#ed901b"/>
<rect x="107" y="299" width="10" height="10" fill="#ea5f1a"/>
<rect x="117" y="299" width="10" height="10" fill="#e7401a"/>
<rect x="127" y="299" width="10" height="10" fill="#e6311a"/>
<rect x="137" y="299" width="10" height="10" fill="#e4251b"/>
<rect x="147" y="299" width="21" height="10" fill="#e6311a"/>
<rect x="168" y="299" width="10" height="10" fill="#e7401a"/>
<rect x="178" y="299" width="20" height="10" fill="#e84f1b"/>
<rect x="198" y="299" width="10" height="10" fill="#ea5f1a"/>
<rect x="208" y="299" width="10" height="10" fill="#ec8119"/>
<rect x="218" y="299" width="11" height="10" fill="#ed901b"/>
<rect x="229" y="299" width="20" height="10" fill="#eea01d"/>
<rect x="249" y="299" width="10" height="10" fill="#edae1f"/>
<rect x="259" y="299" width="10" height="10" fill="#edc522"/>
<rect x="269" y="299" width="10" height="10" fill="#ead127"/>
<rect x="279" y="299" width="10" height="10" fill="#e6de2e"/>
<rect x="289" y="299" width="11" height="10" fill="#c7d938"/>
<rect x="300" y="299" width="10" height="10" fill="#afd036"/>
<rect x="310" y="299" width="10" height="10" fill="#9ac933"/>
<rect x="320" y="299" width="10" height="10" fill="#87c134"/>
<rect x="330" y="299" width="10" height="10" fill="#70b831"/>
<rect x="340" y="299" width="10" height="10" fill="#65b62f"/>
<rect x="350" y="299" width="11" height="10" fill="#5ab533"/>
<rect x="361" y="299" width="10" height="10" fill="#56b546"/>
<rect x="371" y="299" width="10" height="10" fill="#51b463"/>
<rect x="381" y="299" width="10" height="10" fill="#4db47a"/>
<rect x="391" y="299" width="10" height="10" fill="#4ab693"/>
<rect x="401" y="299" width="10" height="10" fill="#48b8a0"/>
<rect x="411" y="299" width="11" height="10" fill="#43baae"/>
<rect x="422" y="299" width="10" height="10" fill="#3fbcbc"/>
<rect x="432" y="299" width="10" height="10" fill="#26b1c3"/>
<rect x="442" y="299" width="10" height="10" fill="#27aac3"/>
<rect x="452" y="299" width="41" height="10" fill="#2aa2c4"/>
<rect x="493" y="299" width="30" height="10" fill="#2c98c3"/>
<rect x="523" y="299" width="31" height="10" fill="#2e8dc1"/>
<rect x="554" y="299" width="20" height="10" fill="#2f81be"/>
<rect x="574" y="299" width="41" height="10" fill="#2f77ba"/>
<rect x="615" y="299" width="40" height="10" fill="#2f6db5"/>
<rect x="655" y="299" width="31" height="10" fill="#3064b1"/>
<rect x="686" y="299" width="30" height="10" fill="#345dac"/>
<rect x="716" y="299" width="92" height="10" fill="#3756a7"/>
<rect x="808" y="299" width="61" height="10" fill="#3950a4"/>
<rect x="869" y="299" width="20" height="10" fill="#3b4ca3"/>
<rect x="889" y="299" width="10" height="10" fill="#3e48a1"/>
<rect x="899" y="299" width="10" height="10" fill="#42449f"/>
<rect x="46" y="289" width="10" height="10" fill="#58b535"/>
<rect x="56" y="289" width="10" height="10" fill="#70b831"/>
<rect x="66" y="289" width="10" height="10" fill="#9ac933"/>
<rect x="76" y="289" width="10" height="10" fill="#d9df33"/>
<rect x="86" y="289" width="10" height="10" fill="#edae1f"/>
<rect x="96" y="289" width="11" height="10" fill="#eb7019"/>
<rect x="107" y="289" width="10" height="10" fill="#e84f1b"/>
<rect x="117" y="289" width="10" height="10" fill="#e4251b"/>
<rect x="127" y="289" width="10" height="10" fill="#e2191c"/>
<rect x="137" y="289" width="10" height="10" fill="#e61b1c"/>
<rect x="147" y="289" width="10" height="10" fill="#e2191c"/>
<rect x="157" y="289" width="11" height="10" fill="#e4251b"/>
<rect x="168" y="289" width="10" height="10" fill="#e6311a"/>
<rect x="178" y="289" width="10" height="10" fill="#e7401a"/>
<rect x="188" y="289" width="10" height="10" fill="#e84f1b"/>
<rect x="198" y="289" width="10" height="10" fill="#ea5f1a"/>
<rect x="208" y="289" width="10" height="10" fill="#eb7019"/>
<rect x="218" y="289" width="11" height="10" fill="#ec8119"/>
<rect x="229" y="289" width="10" height="10" fill="#ed901b"/>
<rect x="239" y="289" width="10" height="10" fill="#eea01d"/>
<rect x="249" y="289" width="10" height="10" fill="#edae1f"/>
<rect x="259" y="289" width="10" height="10" fill="#edbb21"/>
<rect x="269" y="289" width="10" height="10" fill="#ead127"/>
<rect x="279" y="289" width="10" height="10" fill="#e6de2e"/>
<rect x="289" y="289" width="11" height="10" fill="#d9df33"/>
<rect x="300" y="289" width="10" height="10" fill="#b9d439"/>
<rect x="310" y="289" width="10" height="10" fill="#a4cd34"/>
<rect x="320" y="289" width="10" height="10" fill="#90c534"/>
<rect x="330" y="289" width="10" height="10" fill="#77ba32"/>
<rect x="340" y="289" width="10" height="10" fill="#65b62f"/>
<rect x="350" y="289" width="11" height="10" fill="#5db530"/>
<rect x="361" y="289" width="10" height="10" fill="#57b53d"/>
<rect x="371" y="289" width="10" height="10" fill="#53b459"/>
<rect x="381" y="289" width="10" height="10" fill="#4db47a"/>
<rect x="391" y="289" width="10" height="10" fill="#4ab693"/>
<rect x="401" y="289" width="10" height="10" fill="#49b79b"/>
<rect x="411" y="289" width="11" height="10" fill="#43baae"/>
<rect x="422" y="289" width="10" height="10" fill="#3fbcbc"/>
<rect x="432" y="289" width="10" height="10" fill="#33b7c0"/>
<rect x="442" y="289" width="10" height="10" fill="#26b1c3"/>
<rect x="452" y="289" width="10" height="10" fill="#27aac3"/>
<rect x="462" y="289" width="41" height="10" fill="#2aa2c4"/>
<rect x="503" y="289" width="30" height="10" fill="#2c98c3"/>
<rect x="533" y="289" width="31" height="10" fill="#2e8dc1"/>
<rect x="564" y="289" width="30" height="10" fill="#2f81be"/>
<rect x="594" y="289" width="21" height="10" fill="#2f77ba"/>
<rect x="615" y="289" width="40" height="10" fill="#2f6db5"/>
<rect x="655" y="289" width="41" height="10" fill="#3064b1"/>
<rect x="696" y="289" width="41" height="10" fill="#345dac"/>
<rect x="737" y="289" width="111" height="10" fill="#3756a7"/>
<rect x="848" y="289" width="41" height="10" fill="#3950a4"/>
<rect x="889" y="289" width="10" height="10" fill="#3b4ca3"/>
<rect x="899" y="289" width="10" height="10" fill="#3e48a1"/>
<rect x="909" y="289" width="51" height="10" fill="#42449f"/>
<rect x="46" y="279" width="10" height="10" fill="#5fb52e"/>
<rect x="56" y="279" width="10" height="10" fill="#7fbe33"/>
<rect x="66" y="279" width="10" height="10" fill="#afd036"/>
<rect x="76" y="279" width="10" height="10" fill="#e6de2e"/>
<rect x="86" y="279" width="10" height="10" fill="#eea01d"/>
<rect x="96" y="279" width="11" height="10" fill="#ea5f1a"/>
<rect x="107" y="279" width="10" height="10" fill="#e7401a"/>
<rect x="117" y="279" width="10" height="10" fill="#e2191c"/>
<rect x="127" y="279" width="30" height="10" fill="#e61b1c"/>
<rect x="157" y="279" width="11" height="10" fill="#e4251b"/>
<rect x="168" y="279" width="10" height="10" fill="#e6311a"/>
<rect x="178" y="279" width="10" height="10" fill="#e7401a"/>
<rect x="188" y="279" width="10" height="10" fill="#e84f1b"/>
<rect x="198" y="279" width="10" height="10" fill="#ea5f1a"/>
<rect x="208" y="279" width="10" height="10" fill="#eb7019"/>
<rect x="218" y="279" width="11" height="10" fill="#ec8119"/>
<rect x="229" y="279" width="10" height="10" fill="#ed901b"/>
<rect x="239" y="279" width="10" height="10" fill="#eea01d"/>
<rect x="249" y="279" width="10" height="10" fill="#edae1f"/>
<rect x="259" y="279" width="10" height="10" fill="#edbb21"/>
<rect x="269" y="279" width="10" height="10" fill="#edc522"/>
<rect x="279" y="279" width="10" height="10" fill="#e6de2e"/>
<rect x="289" y="279" width="11" height="10" fill="#d9df33"/>
<rect x="300" y="279" width="10" height="10" fill="#c7d938"/>
<rect x="310" y="279" width="10" height="10" fill="#a4cd34"/>
<rect x="320" y="279" width="10" height="10" fill="#9ac933"/>
<rect x="330" y="279" width="10" height="10" fill="#7fbe33"/>
<rect x="340" y="279" width="10" height="10" fill="#6ab730"/>
<rect x="350" y="279" width="11" height="10" fill="#5db530"/>
<rect x="361" y="279" width="10" height="10" fill="#57b53d"/>
<rect x="371" y="279" width="10" height="10" fill="#53b459"/>
<rect x="381" y="279" width="10" height="10" fill="#4eb36e"/>
<rect x="391" y="279" width="10" height="10" fill="#4bb586"/>
<rect x="401" y="279" width="10" height="10" fill="#49b79b"/>
<rect x="411" y="279" width="11" height="10" fill="#43baae"/>
<rect x="422" y="279" width="10" height="10" fill="#3fbcbc"/>
<rect x="432" y="279" width="10" height="10" fill="#33b7c0"/>
<rect x="442" y="279" width="10" height="10" fill="#26b1c3"/>
<rect x="452" y="279" width="31" height="10" fill="#27aac3"/>
<rect x="483" y="279" width="30" height="10" fill="#2aa2c4"/>
<rect x="513" y="279" width="31" height="10" fill="#2c98c3"/>
<rect x="544" y="279" width="30" height="10" fill="#2e8dc1"/>
<rect x="574" y="279" width="31" height="10" fill="#2f81be"/>
<rect x="605" y="279" width="20" height="10" fill="#2f77ba"/>
<rect x="625" y="279" width="51" height="10" fill="#2f6db5"/>
<rect x="676" y="279" width="40" height="10" fill="#3064b1"/>
<rect x="716" y="279" width="51" height="10" fill="#345dac"/>
<rect x="767" y="279" width="122" height="10" fill="#3756a7"/>
<rect x="889" y="279" width="20" height="10" fill="#3950a4"/>
<rect x="909" y="279" width="31" height="10" fill="#3b4ca3"/>
<rect x="940" y="279" width="20" height="10" fill="#3e48a1"/>
<rect x="960" y="279" width="41" height="10" fill="#42449f"/>
<rect x="46" y="269" width="10" height="10" fill="#6ab730"/>
<rect x="56" y="269" width="10" height="10" fill="#7fbe33"/>
<rect x="66" y="269" width="10" height="10" fill="#afd036"/>
<rect x="76" y="269" width="10" height="10" fill="#ead127"/>
<rect x="86" y="269" width="10" height="10" fill="#eea01d"/>
<rect x="96" y="269" width="11" height="10" fill="#ea5f1a"/>
<rect x="107" y="269" width="10" height="10" fill="#e6311a"/>
<rect x="117" y="269" width="10" height="10" fill="#e2191c"/>
<rect x="127" y="269" width="30" height="10" fill="#e61b1c"/>
<rect x="157" y="269" width="11" height="10" fill="#e2191c"/>
<rect x="168" y="269" width="10" height="10" fill="#e6311a"/>
<rect x="178" y="269" width="10" height="10" fill="#e7401a"/>
<rect x="188" y="269" width="20" height="10" fill="#e84f1b"/>
<rect x="208" y="269" width="10" height="10" fill="#eb7019"/>
<rect x="218" y="269" width="11" height="10" fill="#ec8119"/>
<rect x="229" y="269" width="10" height="10" fill="#ed901b"/>
<rect x="239" y="269" width="10" height="10" fill="#eea01d"/>
<rect x="249" y="269" width="10" height="10" fill="#edae1f"/>
<rect x="259" y="269" width="10" height="10" fill="#edbb21"/>
<rect x="269" y="269" width="10" height="10" fill="#edc522"/>
<rect x="279" y="269" width="10" height="10" fill="#e6de2e"/>
<rect x="289" y="269" width="11" height="10" fill="#d9df33"/>
<rect x="300" y="269" width="10" height="10" fill="#c7d938"/>
<rect x="310" y="269" width="10" height="10" fill="#afd036"/>
<rect x="320" y="269" width="10" height="10" fill="#9ac933"/>
<rect x="330" y="269" width="10" height="10" fill="#7fbe33"/>
<rect x="340" y="269" width="10" height="10" fill="#70b831"/>
<rect x="350" y="269" width="11" height="10" fill="#5fb52e"/>
<rect x="361" y="269" width="10" height="10" fill="#58b535"/>
<rect x="371" y="269" width="10" height="10" fill="#55b54e"/>
<rect x="381" y="269" width="10" height="10" fill="#4eb36e"/>
<rect x="391" y="269" width="10" height="10" fill="#4bb586"/>
<rect x="401" y="269" width="10" height="10" fill="#49b79b"/>
<rect x="411" y="269" width="11" height="10" fill="#48b8a0"/>
<rect x="422" y="269" width="10" height="10" fill="#3fbcbc"/>
<rect x="432" y="269" width="10" height="10" fill="#33b7c0"/>
<rect x="442" y="269" width="10" height="10" fill="#26b1c3"/>
<rect x="452" y="269" width="41" height="10" fill="#27aac3"/>
<rect x="493" y="269" width="30" height="10" fill="#2aa2c4"/>
<rect x="523" y="269" width="31" height="10" fill="#2c98c3"/>
<rect x="554" y="269" width="40" height="10" fill="#2e8dc1"/>
<rect x="594" y="269" width="21" height="10" fill="#2f81be"/>
<rect x="615" y="269" width="30" height="10" fill="#2f77ba"/>
<rect x="645" y="269" width="41" height="10" fill="#2f6db5"/>
<rect x="686" y="269" width="51" height="10" fill="#3064b1"/>
<rect x="737" y="269" width="91" height="10" fill="#345dac"/>
<rect x="828" y="269" width="102" height="10" fill="#3756a7"/>
<rect x="930" y="269" width="20" height="10" fill="#3950a4"/>
<rect x="950" y="269" width="31" height="10" fill="#3b4ca3"/>
<rect x="981" y="269" width="20" height="10" fill="#3e48a1"/>
<rect x="1001" y="269" width="30" height="10" fill="#42449f"/>
<rect x="46" y="259" width="10" height="10" fill="#65b62f"/>
<rect x="56" y="259" width="10" height="10" fill="#7fbe33"/>
<rect x="66" y="259" width="10" height="10" fill="#afd036"/>
<rect x="76" y="259" width="10" height="10" fill="#ead127"/>
<rect x="86" y="259" width="10" height="10" fill="#eea01d"/>
<rect x="96" y="259" width="11" height="10" fill="#ea5f1a"/>
<rect x="107" y="259" width="10" height="10" fill="#e6311a"/>
<rect x="117" y="259" width="10" height="10" fill="#e2191c"/>
<rect x="127" y="259" width="30" height="10" fill="#e61b1c"/>
<rect x="157" y="259" width="11" height="10" fill="#e2191c"/>
<rect x="168" y="259" width="10" height="10" fill="#e6311a"/>
<rect x="178" y="259" width="10" height="10" fill="#e7401a"/>
<rect x="188" y="259" width="10" height="10" fill="#e84f1b"/>
<rect x="198" y="259" width="10" height="10" fill="#ea5f1a"/>
<rect x="208" y="259" width="10" height="10" fill="#eb7019"/>
<rect x="218" y="259" width="11" height="10" fill="#ec8119"/>
<rect x="229" y="259" width="10" height="10" fill="#ed901b"/>
<rect x="239" y="259" width="10" height="10" fill="#eea01d"/>
<rect x="249" y="259" width="10" height="10" fill="#edae1f"/>
<rect x="259" y="259" width="10" height="10" fill="#edbb21"/>
<rect x="269" y="259" width="10" height="10" fill="#edc522"/>
<rect x="279" y="259" width="10" height="10" fill="#e6de2e"/>
<rect x="289" y="259" width="11" height="10" fill="#d9df33"/>
<rect x="300" y="259" width="10" height="10" fill="#c7d938"/>
<rect x="310" y="259" width="10" height="10" fill="#a4cd34"/>
<rect x="320" y="259" width="10" height="10" fill="#9ac933"/>
<rect x="330" y="259" width="10" height="10" fill="#7fbe33"/>
<rect x="340" y="259" width="10" height="10" fill="#70b831"/>
<rect x="350" y="259" width="11" height="10" fill="#5fb52e"/>
<rect x="361" y="259" width="10" height="10" fill="#58b535"/>
<rect x="371" y="259" width="10" height="10" fill="#55b54e"/>
<rect x="381" y="259" width="10" height="10" fill="#4eb36e"/>
<rect x="391" y="259" width="10" height="10" fill="#4bb586"/>
<rect x="401" y="259" width="10" height="10" fill="#49b79b"/>
<rect x="411" y="259" width="11" height="10" fill="#43baae"/>
<rect x="422" y="259" width="10" height="10" fill="#3fbcbc"/>
<rect x="432" y="259" width="10" height="10" fill="#33b7c0"/>
<rect x="442" y="259" width="10" height="10" fill="#26b1c3"/>
<rect x="452" y="259" width="31" height="10" fill="#27aac3"/>
<rect x="483" y="259" width="30" height="10" fill="#2aa2c4"/>
<rect x="513" y="259" width="41" height="10" fill="#2c98c3"/>
<rect x="554" y="259" width="40" height="10" fill="#2e8dc1"/>
<rect x="594" y="259" width="31" height="10" fill="#2f81be"/>
<rect x="625" y="259" width="30" height="10" fill="#2f77ba"/>
<rect x="655" y="259" width="41" height="10" fill="#2f6db5"/>
<rect x="696" y="259" width="51" height="10" fill="#3064b1"/>
<rect x="747" y="259" width="91" height="10" fill="#345dac"/>
<rect x="838" y="259" width="112" height="10" fill="#3756a7"/>
<rect x="950" y="259" width="31" height="10" fill="#3950a4"/>
<rect x="981" y="259" width="20" height="10" fill="#3b4ca3"/>
<rect x="1001" y="259" width="30" height="10" fill="#3e48a1"/>
<rect x="1031" y="259" width="21" height="10" fill="#42449f"/>
<rect x="1052" y="259" width="11" height="10" fill="#49409c"/>
<rect x="46" y="248" width="10" height="11" fill="#5db530"/>
<rect x="56" y="248" width="10" height="11" fill="#77ba32"/>
<rect x="66" y="248" width="10" height="11" fill="#a4cd34"/>
<rect x="76" y="248" width="10" height="11" fill="#e6de2e"/>
<rect x="86" y="248" width="10" height="11" fill="#eea01d"/>
<rect x="96" y="248" width="11" height="11" fill="#ea5f1a"/>
<rect x="107" y="248" width="10" height="11" fill="#e6311a"/>
<rect x="117" y="248" width="10" height="11" fill="#e2191c"/>
<rect x="127" y="248" width="30" height="11" fill="#e61b1c"/>
<rect x="157" y="248" width="11" height="11" fill="#e4251b"/>
<rect x="168" y="248" width="10" height="11" fill="#e6311a"/>
<rect x="178" y="248" width="10" height="11" fill="#e7401a"/>
<rect x="188" y="248" width="10" height="11" fill="#e84f1b"/>
<rect x="198" y="248" width="10" height="11" fill="#ea5f1a"/>
<rect x="208" y="248" width="10" height="11" fill="#eb7019"/>
<rect x="218" y="248" width="11" height="11" fill="#ec8119"/>
<rect x="229" y="248" width="10" height="11" fill="#ed901b"/>
<rect x="239" y="248" width="10" height="11" fill="#eea01d"/>
<rect x="249" y="248" width="10" height="11" fill="#edae1f"/>
<rect x="259" y="248" width="10" height="11" fill="#edbb21"/>
<rect x="269" y="248" width="10" height="11" fill="#edc522"/>
<rect x="279" y="248" width="10" height="11" fill="#e6de2e"/>
<rect x="289" y="248" width="11" height="11" fill="#d9df33"/>
<rect x="300" y="248" width="10" height="11" fill="#b9d439"/>
<rect x="310" y="248" width="10" height="11" fill="#a4cd34"/>
<rect x="320" y="248" width="10" height="11" fill="#90c534"/>
<rect x="330" y="248" width="10" height="11" fill="#7fbe33"/>
<rect x="340" y="248" width="10" height="11" fill="#6ab730"/>
<rect x="350" y="248" width="11" height="11" fill="#5fb52e"/>
<rect x="361" y="248" width="10" height="11" fill="#58b535"/>
<rect x="371" y="248" width="10" height="11" fill="#55b54e"/>
<rect x="381" y="248" width="10" height="11" fill="#4eb36e"/>
<rect x="391" y="248" width="10" height="11" fill="#4bb586"/>
<rect x="401" y="248" width="10" height="11" fill="#48b8a0"/>
<rect x="411" y="248" width="11" height="11" fill="#43baae"/>
<rect x="422" y="248" width="10" height="11" fill="#3fbcbc"/>
<rect x="432" y="248" width="10" height="11" fill="#33b7c0"/>
<rect x="442" y="248" width="10" height="11" fill="#26b1c3"/>
<rect x="452" y="248" width="10" height="11" fill="#27aac3"/>
<rect x="462" y="248" width="41" height="11" fill="#2aa2c4"/>
<rect x="503" y="248" width="41" height="11" fill="#2c98c3"/>
<rect x="544" y="248" width="30" height="11" fill="#2e8dc1"/>
<rect x="574" y="248" width="41" height="11" fill="#2f81be"/>
<rect x="615" y="248" width="30" height="11" fill="#2f77ba"/>
<rect x="645" y="248" width="41" height="11" fill="#2f6db5"/>
<rect x="686" y="248" width="40" height="11" fill="#3064b1"/>
<rect x="726" y="248" width="51" height="11" fill="#345dac"/>
<rect x="777" y="248" width="132" height="11" fill="#3756a7"/>
<rect x="909" y="248" width="51" height="11" fill="#3950a4"/>
<rect x="960" y="248" width="31" height="11" fill="#3b4ca3"/>
<rect x="991" y="248" width="30" height="11" fill="#3e48a1"/>
<rect x="1021" y="248" width="31" height="11" fill="#42449f"/>
<rect x="46" y="238" width="10" height="10" fill="#57b53d"/>
<rect x="56" y="238" width="10" height="10" fill="#6ab730"/>
<rect x="66" y="238" width="10" height="10" fill="#9ac933"/>
<rect x="76" y="238" width="10" height="10" fill="#d9df33"/>
<rect x="86" y="238" width="10" height="10" fill="#edae1f"/>
<rect x="96" y="238" width="11" height="10" fill="#ea5f1a"/>
<rect x="107" y="238" width="10" height="10" fill="#e7401a"/>
<rect x="117" y="238" width="10" height="10" fill="#e4251b"/>
<rect x="127" y="238" width="20" height="10" fill="#e61b1c"/>
<rect x="147" y="238" width="10" height="10" fill="#e2191c"/>
<rect x="157" y="238" width="11" height="10" fill="#e4251b"/>
<rect x="168" y="238" width="10" height="10" fill="#e6311a"/>
<rect x="178" y="238" width="10" height="10" fill="#e7401a"/>
<rect x="188" y="238" width="10" height="10" fill="#e84f1b"/>
<rect x="198" y="238" width="10" height="10" fill="#ea5f1a"/>
<rect x="208" y="238" width="10" height="10" fill="#eb7019"/>
<rect x="218" y="238" width="11" height="10" fill="#ec8119"/>
<rect x="229" y="238" width="10" height="10" fill="#ed901b"/>
<rect x="239" y="238" width="10" height="10" fill="#eea01d"/>
<rect x="249" y="238" width="10" height="10" fill="#edae1f"/>
<rect x="259" y="238" width="10" height="10" fill="#edbb21"/>
<rect x="269" y="238" width="10" height="10" fill="#ead127"/>
<rect x="279" y="238" width="10" height="10" fill="#e6de2e"/>
<rect x="289" y="238" width="11" height="10" fill="#c7d938"/>
<rect x="300" y="238" width="10" height="10" fill="#afd036"/>
<rect x="310" y="238" width="10" height="10" fill="#9ac933"/>
<rect x="320" y="238" width="10" height="10" fill="#87c134"/>
<rect x="330" y="238" width="10" height="10" fill="#77ba32"/>
<rect x="340" y="238" width="10" height="10" fill="#6ab730"/>
<rect x="350" y="238" width="11" height="10" fill="#5db530"/>
<rect x="361" y="238" width="10" height="10" fill="#57b53d"/>
<rect x="371" y="238" width="10" height="10" fill="#53b459"/>
<rect x="381" y="238" width="10" height="10" fill="#4db47a"/>
<rect x="391" y="238" width="10" height="10" fill="#4ab693"/>
<rect x="401" y="238" width="10" height="10" fill="#48b8a0"/>
<rect x="411" y="238" width="11" height="10" fill="#43baae"/>
<rect x="422" y="238" width="10" height="10" fill="#33b7c0"/>
<rect x="432" y="238" width="10" height="10" fill="#26b1c3"/>
<rect x="442" y="238" width="20" height="10" fill="#27aac3"/>
<rect x="462" y="238" width="31" height="10" fill="#2aa2c4"/>
<rect x="493" y="238" width="30" height="10" fill="#2c98c3"/>
<rect x="523" y="238" width="41" height="10" fill="#2e8dc1"/>
<rect x="564" y="238" width="41" height="10" fill="#2f81be"/>
<rect x="605" y="238" width="30" height="10" fill="#2f77ba"/>
<rect x="635" y="238" width="41" height="10" fill="#2f6db5"/>
<rect x="676" y="238" width="30" height="10" fill="#3064b1"/>
<rect x="706" y="238" width="41" height="10" fill="#345dac"/>
<rect x="747" y="238" width="122" height="10" fill="#3756a7"/>
<rect x="869" y="238" width="61" height="10" fill="#3950a4"/>
<rect x="930" y="238" width="40" height="10" fill="#3b4ca3"/>
<rect x="970" y="238" width="31" height="10" fill="#3e48a1"/>
<rect x="1001" y="238" width="40" height="10" fill="#42449f"/>
<rect x="46" y="228" width="10" height="10" fill="#51b463"/>
<rect x="56" y="228" width="10" height="10" fill="#5fb52e"/>
<rect x="66" y="228" width="10" height="10" fill="#87c134"/>
<rect x="76" y="228" width="10" height="10" fill="#c7d938"/>
<rect x="86" y="228" width="10" height="10" fill="#edbb21"/>
<rect x="96" y="228" width="11" height="10" fill="#ec8119"/>
<rect x="107" y="228" width="10" height="10" fill="#e84f1b"/>
<rect x="117" y="228" width="10" height="10" fill="#e6311a"/>
<rect x="127" y="228" width="20" height="10" fill="#e4251b"/>
<rect x="147" y="228" width="21" height="10" fill="#e6311a"/>
<rect x="168" y="228" width="10" height="10" fill="#e7401a"/>
<rect x="178" y="228" width="20" height="10" fill="#e84f1b"/>
<rect x="198" y="228" width="10" height="10" fill="#ea5f1a"/>
<rect x="208" y="228" width="10" height="10" fill="#ec8119"/>
<rect x="218" y="228" width="11" height="10" fill="#ed901b"/>
<rect x="229" y="228" width="10" height="10" fill="#eea01d"/>
<rect x="239" y="228" width="10" height="10" fill="#edae1f"/>
<rect x="249" y="228" width="10" height="10" fill="#edbb21"/>
<rect x="259" y="228" width="10" height="10" fill="#edc522"/>
<rect x="269" y="228" width="10" height="10" fill="#e6de2e"/>
<rect x="279" y="228" width="10" height="10" fill="#d9df33"/>
<rect x="289" y="228" width="11" height="10" fill="#c7d938"/>
<rect x="300" y="228" width="10" height="10" fill="#afd036"/>
<rect x="310" y="228" width="10" height="10" fill="#9ac933"/>
<rect x="320" y="228" width="10" height="10" fill="#87c134"/>
<rect x="330" y="228" width="10" height="10" fill="#70b831"/>
<rect x="340" y="228" width="10" height="10" fill="#65b62f"/>
<rect x="350" y="228" width="11" height="10" fill="#5ab533"/>
<rect x="361" y="228" width="10" height="10" fill="#57b53d"/>
<rect x="371" y="228" width="10" height="10" fill="#53b459"/>
<rect x="381" y="228" width="10" height="10" fill="#4db47a"/>
<rect x="391" y="228" width="10" height="10" fill="#49b79b"/>
<rect x="401" y="228" width="10" height="10" fill="#43baae"/>
<rect x="411" y="228" width="11" height="10" fill="#3fbcbc"/>
<rect x="422" y="228" width="10" height="10" fill="#33b7c0"/>
<rect x="432" y="228" width="10" height="10" fill="#26b1c3"/>
<rect x="442" y="228" width="10" height="10" fill="#27aac3"/>
<rect x="452" y="228" width="31" height="10" fill="#2aa2c4"/>
<rect x="483" y="228" width="30" height="10" fill="#2c98c3"/>
<rect x="513" y="228" width="31" height="10" fill="#2e8dc1"/>
<rect x="544" y="228" width="40" height="10" fill="#2f81be"/>
<rect x="584" y="228" width="41" height="10" fill="#2f77ba"/>
<rect x="625" y="228" width="40" height="10" fill="#2f6db5"/>
<rect x="665" y="228" width="31" height="10" fill="#3064b1"/>
<rect x="696" y="228" width="30" height="10" fill="#345dac"/>
<rect x="726" y="228" width="102" height="10" fill="#3756a7"/>
<rect x="828" y="228" width="71" height="10" fill="#3950a4"/>
<rect x="899" y="228" width="41" height="10" fill="#3b4ca3"/>
<rect x="940" y="228" width="41" height="10" fill="#3e48a1"/>
<rect x="981" y="228" width="50" height="10" fill="#42449f"/>
<rect x="46" y="218" width="10" height="10" fill="#48b8a0"/>
<rect x="56" y="218" width="10" height="10" fill="#56b546"/>
<rect x="66" y="218" width="10" height="10" fill="#70b831"/>
<rect x="76" y="218" width="10" height="10" fill="#a4cd34"/>
<rect x="86" y="218" width="10" height="10" fill="#ead127"/>
<rect x="96" y="218" width="11" height="10" fill="#eea01d"/>
<rect x="107" y="218" width="10" height="10" fill="#eb7019"/>
<rect x="117" y="218" width="10" height="10" fill="#e84f1b"/>
<rect x="127" y="218" width="30" height="10" fill="#e7401a"/>
<rect x="157" y="218" width="31" height="10" fill="#e84f1b"/>
<rect x="188" y="218" width="10" height="10" fill="#ea5f1a"/>
<rect x="198" y="218" width="10" height="10" fill="#eb7019"/>
<rect x="208" y="218" width="10" height="10" fill="#ec8119"/>
<rect x="218" y="218" width="11" height="10" fill="#ed901b"/>
<rect x="229" y="218" width="10" height="10" fill="#eea01d"/>
<rect x="239" y="218" width="10" height="10" fill="#edae1f"/>
<rect x="249" y="218" width="10" height="10" fill="#edbb21"/>
<rect x="259" y="218" width="10" height="10" fill="#ead127"/>
<rect x="269" y="218" width="10" height="10" fill="#e6de2e"/>
<rect x="279" y="218" width="10" height="10" fill="#c7d938"/>
<rect x="289" y="218" width="11" height="10" fill="#b9d439"/>
<rect x="300" y="218" width="10" height="10" fill="#a4cd34"/>
<rect x="310" y="218" width="10" height="10" fill="#90c534"/>
<rect x="320" y="218" width="10" height="10" fill="#7fbe33"/>
<rect x="330" y="218" width="10" height="10" fill="#6ab730"/>
<rect x="340" y="218" width="10" height="10" fill="#5fb52e"/>
<rect x="350" y="218" width="11" height="10" fill="#58b535"/>
<rect x="361" y="218" width="10" height="10" fill="#56b546"/>
<rect x="371" y="218" width="10" height="10" fill="#51b463"/>
<rect x="381" y="218" width="10" height="10" fill="#4bb586"/>
<rect x="391" y="218" width="10" height="10" fill="#48b8a0"/>
<rect x="401" y="218" width="10" height="10" fill="#43baae"/>
<rect x="411" y="218" width="11" height="10" fill="#3fbcbc"/>
<rect x="422" y="218" width="10" height="10" fill="#33b7c0"/>
<rect x="432" y="218" width="10" height="10" fill="#27aac3"/>
<rect x="442" y="218" width="30" height="10" fill="#2aa2c4"/>
<rect x="472" y="218" width="31" height="10" fill="#2c98c3"/>
<rect x="503" y="218" width="30" height="10" fill="#2e8dc1"/>
<rect x="533" y="218" width="41" height="10" fill="#2f81be"/>
<rect x="574" y="218" width="31" height="10" fill="#2f77ba"/>
<rect x="605" y="218" width="50" height="10" fill="#2f6db5"/>
<rect x="655" y="218" width="31" height="10" fill="#3064b1"/>
<rect x="686" y="218" width="30" height="10" fill="#345dac"/>
<rect x="716" y="218" width="41" height="10" fill="#3756a7"/>
<rect x="757" y="218" width="20" height="10" fill="#3950a4"/>
<rect x="777" y="218" width="31" height="10" fill="#3756a7"/>
<rect x="808" y="218" width="71" height="10" fill="#3950a4"/>
<rect x="879" y="218" width="30" height="10" fill="#3b4ca3"/>
<rect x="909" y="218" width="31" height="10" fill="#3e48a1"/>
<rect x="940" y="218" width="71" height="10" fill="#42449f"/>
<rect x="1011" y="218" width="10" height="10" fill="#49409c"/>
<rect x="46" y="208" width="10" height="10" fill="#2aa2c4"/>
<rect x="56" y="208" width="10" height="10" fill="#4bb586"/>
<rect x="66" y="208" width="10" height="10" fill="#5ab533"/>
<rect x="76" y="208" width="10" height="10" fill="#7fbe33"/>
<rect x="86" y="208" width="10" height="10" fill="#b9d439"/>
<rect x="96" y="208" width="11" height="10" fill="#edc522"/>
<rect x="107" y="208" width="10" height="10" fill="#eea01d"/>
<rect x="117" y="208" width="10" height="10" fill="#ec8119"/>
<rect x="127" y="208" width="51" height="10" fill="#ea5f1a"/>
<rect x="178" y="208" width="10" height="10" fill="#eb7019"/>
<rect x="188" y="208" width="10" height="10" fill="#ec8119"/>
<rect x="198" y="208" width="20" height="10" fill="#ed901b"/>
<rect x="218" y="208" width="11" height="10" fill="#eea01d"/>
<rect x="229" y="208" width="10" height="10" fill="#edae1f"/>
<rect x="239" y="208" width="10" height="10" fill="#edbb21"/>
<rect x="249" y="208" width="10" height="10" fill="#ead127"/>
<rect x="259" y="208" width="10" height="10" fill="#e6de2e"/>
<rect x="269" y="208" width="10" height="10" fill="#d9df33"/>
<rect x="279" y="208" width="10" height="10" fill="#b9d439"/>
<rect x="289" y="208" width="11" height="10" fill="#afd036"/>
<rect x="300" y="208" width="10" height="10" fill="#9ac933"/>
<rect x="310" y="208" width="10" height="10" fill="#87c134"/>
<rect x="320" y="208" width="10" height="10" fill="#77ba32"/>
<rect x="330" y="208" width="10" height="10" fill="#65b62f"/>
<rect x="340" y="208" width="10" height="10" fill="#5db530"/>
<rect x="350" y="208" width="11" height="10" fill="#57b53d"/>
<rect x="361" y="208" width="10" height="10" fill="#55b54e"/>
<rect x="371" y="208" width="10" height="10" fill="#4eb36e"/>
<rect x="381" y="208" width="10" height="10" fill="#4ab693"/>
<rect x="391" y="208" width="10" height="10" fill="#48b8a0"/>
<rect x="401" y="208" width="10" height="10" fill="#43baae"/>
<rect x="411" y="208" width="11" height="10" fill="#3fbcbc"/>
<rect x="422" y="208" width="10" height="10" fill="#26b1c3"/>
<rect x="432" y="208" width="10" height="10" fill="#27aac3"/>
<rect x="442" y="208" width="30" height="10" fill="#2aa2c4"/>
<rect x="472" y="208" width="21" height="10" fill="#2c98c3"/>
<rect x="493" y="208" width="30" height="10" fill="#2e8dc1"/>
<rect x="523" y="208" width="31" height="10" fill="#2f81be"/>
<rect x="554" y="208" width="40" height="10" fill="#2f77ba"/>
<rect x="594" y="208" width="51" height="10" fill="#2f6db5"/>
<rect x="645" y="208" width="31" height="10" fill="#3064b1"/>
<rect x="676" y="208" width="30" height="10" fill="#345dac"/>
<rect x="706" y="208" width="31" height="10" fill="#3756a7"/>
<rect x="737" y="208" width="132" height="10" fill="#3950a4"/>
<rect x="869" y="208" width="20" height="10" fill="#3b4ca3"/>
<rect x="889" y="208" width="20" height="10" fill="#3e48a1"/>
<rect x="909" y="208" width="51" height="10" fill="#42449f"/>
<rect x="960" y="208" width="41" height="10" fill="#49409c"/>
<rect x="46" y="198" width="10" height="10" fill="#3756a7"/>
<rect x="56" y="198" width="10" height="10" fill="#26b1c3"/>
<rect x="66" y="198" width="10" height="10" fill="#4eb36e"/>
<rect x="76" y="198" width="10" height="10" fill="#5db530"/>
<rect x="86" y="198" width="10" height="10" fill="#87c134"/>
<rect x="96" y="198" width="11" height="10" fill="#b9d439"/>
<rect x="107" y="198" width="10" height="10" fill="#ead127"/>
<rect x="117" y="198" width="10" height="10" fill="#edbb21"/>
<rect x="127" y="198" width="10" height="10" fill="#eea01d"/>
<rect x="137" y="198" width="51" height="10" fill="#ed901b"/>
<rect x="188" y="198" width="20" height="10" fill="#eea01d"/>
<rect x="208" y="198" width="21" height="10" fill="#edae1f"/>
<rect x="229" y="198" width="10" height="10" fill="#edbb21"/>
<rect x="239" y="198" width="10" height="10" fill="#ead127"/>
<rect x="249" y="198" width="10" height="10" fill="#e6de2e"/>
<rect x="259" y="198" width="10" height="10" fill="#d9df33"/>
<rect x="269" y="198" width="10" height="10" fill="#c7d938"/>
<rect x="279" y="198" width="10" height="10" fill="#afd036"/>
<rect x="289" y="198" width="11" height="10" fill="#9ac933"/>
<rect x="300" y="198" width="10" height="10" fill="#90c534"/>
<rect x="310" y="198" width="10" height="10" fill="#7fbe33"/>
<rect x="320" y="198" width="10" height="10" fill="#70b831"/>
<rect x="330" y="198" width="10" height="10" fill="#5fb52e"/>
<rect x="340" y="198" width="10" height="10" fill="#5ab533"/>
<rect x="350" y="198" width="11" height="10" fill="#57b53d"/>
<rect x="361" y="198" width="10" height="10" fill="#53b459"/>
<rect x="371" y="198" width="10" height="10" fill="#4db47a"/>
<rect x="381" y="198" width="10" height="10" fill="#4ab693"/>
<rect x="391" y="198" width="10" height="10" fill="#48b8a0"/>
<rect x="401" y="198" width="10" height="10" fill="#3fbcbc"/>
<rect x="411" y="198" width="11" height="10" fill="#33b7c0"/>
<rect x="422" y="198" width="10" height="10" fill="#26b1c3"/>
<rect x="432" y="198" width="10" height="10" fill="#27aac3"/>
<rect x="442" y="198" width="20" height="10" fill="#2aa2c4"/>
<rect x="462" y="198" width="21" height="10" fill="#2c98c3"/>
<rect x="483" y="198" width="30" height="10" fill="#2e8dc1"/>
<rect x="513" y="198" width="31" height="10" fill="#2f81be"/>
<rect x="544" y="198" width="30" height="10" fill="#2f77ba"/>
<rect x="574" y="198" width="51" height="10" fill="#2f6db5"/>
<rect x="625" y="198" width="40" height="10" fill="#3064b1"/>
<rect x="665" y="198" width="31" height="10" fill="#345dac"/>
<rect x="696" y="198" width="30" height="10" fill="#3756a7"/>
<rect x="726" y="198" width="31" height="10" fill="#3950a4"/>
<rect x="757" y="198" width="30" height="10" fill="#3b4ca3"/>
<rect x="787" y="198" width="72" height="10" fill="#3950a4"/>
<rect x="859" y="198" width="30" height="10" fill="#3b4ca3"/>
<rect x="889" y="198" width="10" height="10" fill="#3e48a1"/>
<rect x="899" y="198" width="31" height="10" fill="#42449f"/>
<rect x="930" y="198" width="61" height="10" fill="#49409c"/>
<rect x="56" y="188" width="10" height="10" fill="#3950a4"/>
<rect x="66" y="188" width="10" height="10" fill="#27aac3"/>
<rect x="76" y="188" width="10" height="10" fill="#4bb586"/>
<rect x="86" y="188" width="10" height="10" fill="#58b535"/>
<rect x="96" y="188" width="11" height="10" fill="#77ba32"/>
<rect x="107" y="188" width="10" height="10" fill="#a4cd34"/>
<rect x="117" y="188" width="10" height="10" fill="#c7d938"/>
<rect x="127" y="188" width="10" height="10" fill="#ead127"/>
<rect x="137" y="188" width="20" height="10" fill="#edc522"/>
<rect x="157" y="188" width="61" height="10" fill="#edbb21"/>
<rect x="218" y="188" width="11" height="10" fill="#edc522"/>
<rect x="229" y="188" width="10" height="10" fill="#ead127"/>
<rect x="239" y="188" width="10" height="10" fill="#e6de2e"/>
<rect x="249" y="188" width="10" height="10" fill="#d9df33"/>
<rect x="259" y="188" width="10" height="10" fill="#c7d938"/>
<rect x="269" y="188" width="10" height="10" fill="#afd036"/>
<rect x="279" y="188" width="10" height="10" fill="#a4cd34"/>
<rect x="289" y="188" width="11" height="10" fill="#90c534"/>
<rect x="300" y="188" width="10" height="10" fill="#7fbe33"/>
<rect x="310" y="188" width="10" height="10" fill="#70b831"/>
<rect x="320" y="188" width="10" height="10" fill="#6ab730"/>
<rect x="330" y="188" width="10" height="10" fill="#5db530"/>
<rect x="340" y="188" width="10" height="10" fill="#58b535"/>
<rect x="350" y="188" width="11" height="10" fill="#55b54e"/>
<rect x="361" y="188" width="10" height="10" fill="#51b463"/>
<rect x="371" y="188" width="10" height="10" fill="#4bb586"/>
<rect x="381" y="188" width="10" height="10" fill="#49b79b"/>
<rect x="391" y="188" width="10" height="10" fill="#43baae"/>
<rect x="401" y="188" width="10" height="10" fill="#3fbcbc"/>
<rect x="411" y="188" width="11" height="10" fill="#33b7c0"/>
<rect x="422" y="188" width="10" height="10" fill="#26b1c3"/>
<rect x="432" y="188" width="10" height="10" fill="#27aac3"/>
<rect x="442" y="188" width="20" height="10" fill="#2aa2c4"/>
<rect x="462" y="188" width="21" height="10" fill="#2c98c3"/>
<rect x="483" y="188" width="20" height="10" fill="#2e8dc1"/>
<rect x="503" y="188" width="30" height="10" fill="#2f81be"/>
<rect x="533" y="188" width="21" height="10" fill="#2f77ba"/>
<rect x="554" y="188" width="61" height="10" fill="#2f6db5"/>
<rect x="615" y="188" width="40" height="10" fill="#3064b1"/>
<rect x="655" y="188" width="41" height="10" fill="#345dac"/>
<rect x="696" y="188" width="20" height="10" fill="#3756a7"/>
<rect x="716" y="188" width="21" height="10" fill="#3950a4"/>
<rect x="737" y="188" width="152" height="10" fill="#3b4ca3"/>
<rect x="889" y="188" width="10" height="10" fill="#3e48a1"/>
<rect x="899" y="188" width="51" height="10" fill="#42449f"/>
<rect x="950" y="188" width="31" height="10" fill="#49409c"/>
<rect x="66" y="177" width="10" height="11" fill="#3b4ca3"/>
<rect x="76" y="177" width="10" height="11" fill="#2f77ba"/>
<rect x="86" y="177" width="10" height="11" fill="#3fbcbc"/>
<rect x="96" y="177" width="11" height="11" fill="#51b463"/>
<rect x="107" y="177" width="10" height="11" fill="#5fb52e"/>
<rect x="117" y="177" width="10" height="11" fill="#87c134"/>
<rect x="127" y="177" width="10" height="11" fill="#a4cd34"/>
<rect x="137" y="177" width="10" height="11" fill="#b9d439"/>
<rect x="147" y="177" width="10" height="11" fill="#c7d938"/>
<rect x="157" y="177" width="11" height="11" fill="#d9df33"/>
<rect x="168" y="177" width="61" height="11" fill="#e6de2e"/>
<rect x="229" y="177" width="10" height="11" fill="#d9df33"/>
<rect x="239" y="177" width="10" height="11" fill="#c7d938"/>
<rect x="249" y="177" width="10" height="11" fill="#b9d439"/>
<rect x="259" y="177" width="10" height="11" fill="#afd036"/>
<rect x="269" y="177" width="10" height="11" fill="#a4cd34"/>
<rect x="279" y="177" width="10" height="11" fill="#90c534"/>
<rect x="289" y="177" width="11" height="11" fill="#87c134"/>
<rect x="300" y="177" width="10" height="11" fill="#77ba32"/>
<rect x="310" y="177" width="10" height="11" fill="#6ab730"/>
<rect x="320" y="177" width="10" height="11" fill="#5fb52e"/>
<rect x="330" y="177" width="10" height="11" fill="#5ab533"/>
<rect x="340" y="177" width="10" height="11" fill="#57b53d"/>
<rect x="350" y="177" width="11" height="11" fill="#53b459"/>
<rect x="361" y="177" width="10" height="11" fill="#4eb36e"/>
<rect x="371" y="177" width="10" height="11" fill="#4ab693"/>
<rect x="381" y="177" width="10" height="11" fill="#49b79b"/>
<rect x="391" y="177" width="10" height="11" fill="#43baae"/>
<rect x="401" y="177" width="10" height="11" fill="#3fbcbc"/>
<rect x="411" y="177" width="11" height="11" fill="#33b7c0"/>
<rect x="422" y="177" width="10" height="11" fill="#26b1c3"/>
<rect x="432" y="177" width="10" height="11" fill="#27aac3"/>
<rect x="442" y="177" width="10" height="11" fill="#2aa2c4"/>
<rect x="452" y="177" width="20" height="11" fill="#2c98c3"/>
<rect x="472" y="177" width="21" height="11" fill="#2e8dc1"/>
<rect x="493" y="177" width="30" height="11" fill="#2f81be"/>
<rect x="523" y="177" width="21" height="11" fill="#2f77ba"/>
<rect x="544" y="177" width="50" height="11" fill="#2f6db5"/>
<rect x="594" y="177" width="51" height="11" fill="#3064b1"/>
<rect x="645" y="177" width="41" height="11" fill="#345dac"/>
<rect x="686" y="177" width="20" height="11" fill="#3756a7"/>
<rect x="706" y="177" width="20" height="11" fill="#3950a4"/>
<rect x="726" y="177" width="21" height="11" fill="#3b4ca3"/>
<rect x="747" y="177" width="81" height="11" fill="#3e48a1"/>
<rect x="828" y="177" width="61" height="11" fill="#3b4ca3"/>
<rect x="889" y="177" width="20" height="11" fill="#3e48a1"/>
<rect x="909" y="177" width="51" height="11" fill="#42449f"/>
<rect x="960" y="177" width="21" height="11" fill="#49409c"/>
<rect x="86" y="167" width="10" height="10" fill="#3950a4"/>
<rect x="96" y="167" width="11" height="10" fill="#2f81be"/>
<rect x="107" y="167" width="10" height="10" fill="#48b8a0"/>
<rect x="117" y="167" width="10" height="10" fill="#55b54e"/>
<rect x="127" y="167" width="10" height="10" fill="#5fb52e"/>
<rect x="137" y="167" width="10" height="10" fill="#77ba32"/>
<rect x="147" y="167" width="10" height="10" fill="#90c534"/>
<rect x="157" y="167" width="21" height="10" fill="#a4cd34"/>
<rect x="178" y="167" width="10" height="10" fill="#afd036"/>
<rect x="188" y="167" width="51" height="10" fill="#b9d439"/>
<rect x="239" y="167" width="10" height="10" fill="#afd036"/>
<rect x="249" y="167" width="10" height="10" fill="#a4cd34"/>
<rect x="259" y="167" width="10" height="10" fill="#9ac933"/>
<rect x="269" y="167" width="10" height="10" fill="#90c534"/>
<rect x="279" y="167" width="10" height="10" fill="#87c134"/>
<rect x="289" y="167" width="11" height="10" fill="#77ba32"/>
<rect x="300" y="167" width="10" height="10" fill="#70b831"/>
<rect x="310" y="167" width="10" height="10" fill="#65b62f"/>
<rect x="320" y="167" width="10" height="10" fill="#5db530"/>
<rect x="330" y="167" width="10" height="10" fill="#58b535"/>
<rect x="340" y="167" width="10" height="10" fill="#55b54e"/>
<rect x="350" y="167" width="11" height="10" fill="#4eb36e"/>
<rect x="361" y="167" width="10" height="10" fill="#4bb586"/>
<rect x="371" y="167" width="10" height="10" fill="#49b79b"/>
<rect x="381" y="167" width="10" height="10" fill="#48b8a0"/>
<rect x="391" y="167" width="10" height="10" fill="#3fbcbc"/>
<rect x="401" y="167" width="10" height="10" fill="#33b7c0"/>
<rect x="411" y="167" width="11" height="10" fill="#26b1c3"/>
<rect x="422" y="167" width="20" height="10" fill="#27aac3"/>
<rect x="442" y="167" width="10" height="10" fill="#2aa2c4"/>
<rect x="452" y="167" width="10" height="10" fill="#2c98c3"/>
<rect x="462" y="167" width="21" height="10" fill="#2e8dc1"/>
<rect x="483" y="167" width="30" height="10" fill="#2f81be"/>
<rect x="513" y="167" width="20" height="10" fill="#2f77ba"/>
<rect x="533" y="167" width="41" height="10" fill="#2f6db5"/>
<rect x="574" y="167" width="61" height="10" fill="#3064b1"/>
<rect x="635" y="167" width="41" height="10" fill="#345dac"/>
<rect x="676" y="167" width="30" height="10" fill="#3756a7"/>
<rect x="706" y="167" width="10" height="10" fill="#3950a4"/>
<rect x="716" y="167" width="10" height="10" fill="#3b4ca3"/>
<rect x="726" y="167" width="31" height="10" fill="#3e48a1"/>
<rect x="757" y="167" width="61" height="10" fill="#42449f"/>
<rect x="818" y="167" width="71" height="10" fill="#3e48a1"/>
<rect x="889" y="167" width="20" height="10" fill="#42449f"/>
<rect x="930" y="167" width="20" height="10" fill="#42449f"/>
<rect x="950" y="167" width="10" height="10" fill="#49409c"/>
<rect x="107" y="157" width="10" height="10" fill="#3756a7"/>
<rect x="117" y="157" width="10" height="10" fill="#2aa2c4"/>
<rect x="127" y="157" width="10" height="10" fill="#4ab693"/>
<rect x="137" y="157" width="10" height="10" fill="#55b54e"/>
<rect x="147" y="157" width="10" height="10" fill="#5ab533"/>
<rect x="157" y="157" width="11" height="10" fill="#65b62f"/>
<rect x="168" y="157" width="10" height="10" fill="#70b831"/>
<rect x="178" y="157" width="10" height="10" fill="#7fbe33"/>
<rect x="188" y="157" width="10" height="10" fill="#87c134"/>
<rect x="198" y="157" width="10" height="10" fill="#90c534"/>
<rect x="208" y="157" width="41" height="10" fill="#9ac933"/>
<rect x="249" y="157" width="10" height="10" fill="#90c534"/>
<rect x="259" y="157" width="10" height="10" fill="#87c134"/>
<rect x="269" y="157" width="10" height="10" fill="#7fbe33"/>
<rect x="279" y="157" width="10" height="10" fill="#77ba32"/>
<rect x="289" y="157" width="11" height="10" fill="#70b831"/>
<rect x="300" y="157" width="10" height="10" fill="#6ab730"/>
<rect x="310" y="157" width="10" height="10" fill="#5fb52e"/>
<rect x="320" y="157" width="10" height="10" fill="#5ab533"/>
<rect x="330" y="157" width="10" height="10" fill="#57b53d"/>
<rect x="340" y="157" width="10" height="10" fill="#53b459"/>
<rect x="350" y="157" width="11" height="10" fill="#4db47a"/>
<rect x="361" y="157" width="10" height="10" fill="#4ab693"/>
<rect x="371" y="157" width="10" height="10" fill="#48b8a0"/>
<rect x="381" y="157" width="10" height="10" fill="#3fbcbc"/>
<rect x="391" y="157" width="10" height="10" fill="#33b7c0"/>
<rect x="401" y="157" width="10" height="10" fill="#26b1c3"/>
<rect x="411" y="157" width="21" height="10" fill="#27aac3"/>
<rect x="432" y="157" width="10" height="10" fill="#2aa2c4"/>
<rect x="442" y="157" width="10" height="10" fill="#2c98c3"/>
<rect x="452" y="157" width="20" height="10" fill="#2e8dc1"/>
<rect x="472" y="157" width="21" height="10" fill="#2f81be"/>
<rect x="493" y="157" width="30" height="10" fill="#2f77ba"/>
<rect x="523" y="157" width="41" height="10" fill="#2f6db5"/>
<rect x="564" y="157" width="61" height="10" fill="#3064b1"/>
<rect x="625" y="157" width="51" height="10" fill="#345dac"/>
<rect x="676" y="157" width="20" height="10" fill="#3756a7"/>
<rect x="696" y="157" width="10" height="10" fill="#3950a4"/>
<rect x="706" y="157" width="10" height="10" fill="#3b4ca3"/>
<rect x="716" y="157" width="21" height="10" fill="#3e48a1"/>
<rect x="737" y="157" width="20" height="10" fill="#42449f"/>
<rect x="757" y="157" width="51" height="10" fill="#49409c"/>
<rect x="808" y="157" width="81" height="10" fill="#42449f"/>
<rect x="117" y="147" width="10" height="10" fill="#3b4ca3"/>
<rect x="127" y="147" width="10" height="10" fill="#2f6db5"/>
<rect x="137" y="147" width="10" height="10" fill="#26b1c3"/>
<rect x="147" y="147" width="10" height="10" fill="#4ab693"/>
<rect x="157" y="147" width="11" height="10" fill="#53b459"/>
<rect x="168" y="147" width="10" height="10" fill="#56b546"/>
<rect x="178" y="147" width="10" height="10" fill="#5ab533"/>
<rect x="188" y="147" width="10" height="10" fill="#5fb52e"/>
<rect x="198" y="147" width="10" height="10" fill="#65b62f"/>
<rect x="208" y="147" width="10" height="10" fill="#70b831"/>
<rect x="218" y="147" width="41" height="10" fill="#77ba32"/>
<rect x="259" y="147" width="20" height="10" fill="#70b831"/>
<rect x="279" y="147" width="10" height="10" fill="#6ab730"/>
<rect x="289" y="147" width="11" height="10" fill="#65b62f"/>
<rect x="300" y="147" width="10" height="10" fill="#5fb52e"/>
<rect x="310" y="147" width="10" height="10" fill="#5ab533"/>
<rect x="320" y="147" width="10" height="10" fill="#57b53d"/>
<rect x="330" y="147" width="10" height="10" fill="#55b54e"/>
<rect x="340" y="147" width="10" height="10" fill="#4eb36e"/>
<rect x="350" y="147" width="11" height="10" fill="#4ab693"/>
<rect x="361" y="147" width="10" height="10" fill="#48b8a0"/>
<rect x="371" y="147" width="10" height="10" fill="#3fbcbc"/>
<rect x="381" y="147" width="10" height="10" fill="#33b7c0"/>
<rect x="391" y="147" width="20" height="10" fill="#27aac3"/>
<rect x="411" y="147" width="11" height="10" fill="#2aa2c4"/>
<rect x="422" y="147" width="20" height="10" fill="#2c98c3"/>
<rect x="442" y="147" width="10" height="10" fill="#2e8dc1"/>
<rect x="452" y="147" width="31" height="10" fill="#2f81be"/>
<rect x="483" y="147" width="30" height="10" fill="#2f77ba"/>
<rect x="513" y="147" width="31" height="10" fill="#2f6db5"/>
<rect x="544" y="147" width="61" height="10" fill="#3064b1"/>
<rect x="605" y="147" width="60" height="10" fill="#345dac"/>
<rect x="665" y="147" width="31" height="10" fill="#3756a7"/>
<rect x="696" y="147" width="10" height="10" fill="#3e48a1"/>
<rect x="706" y="147" width="41" height="10" fill="#42449f"/>
<rect x="747" y="147" width="20" height="10" fill="#49409c"/>
<rect x="137" y="137" width="10" height="10" fill="#3950a4"/>
<rect x="147" y="137" width="10" height="10" fill="#2e8dc1"/>
<rect x="157" y="137" width="11" height="10" fill="#3fbcbc"/>
<rect x="168" y="137" width="10" height="10" fill="#4ab693"/>
<rect x="178" y="137" width="10" height="10" fill="#4eb36e"/>
<rect x="188" y="137" width="10" height="10" fill="#55b54e"/>
<rect x="198" y="137" width="10" height="10" fill="#57b53d"/>
<rect x="208" y="137" width="10" height="10" fill="#58b535"/>
<rect x="218" y="137" width="11" height="10" fill="#5ab533"/>
<rect x="229" y="137" width="10" height="10" fill="#5db530"/>
<rect x="239" y="137" width="50" height="10" fill="#5fb52e"/>
<rect x="289" y="137" width="11" height="10" fill="#5db530"/>
<rect x="300" y="137" width="10" height="10" fill="#58b535"/>
<rect x="310" y="137" width="10" height="10" fill="#57b53d"/>
<rect x="320" y="137" width="10" height="10" fill="#55b54e"/>
<rect x="330" y="137" width="10" height="10" fill="#51b463"/>
<rect x="340" y="137" width="10" height="10" fill="#4bb586"/>
<rect x="350" y="137" width="11" height="10" fill="#49b79b"/>
<rect x="361" y="137" width="10" height="10" fill="#43baae"/>
<rect x="371" y="137" width="10" height="10" fill="#26b1c3"/>
<rect x="381" y="137" width="10" height="10" fill="#27aac3"/>
<rect x="391" y="137" width="10" height="10" fill="#2aa2c4"/>
<rect x="401" y="137" width="10" height="10" fill="#2c98c3"/>
<rect x="411" y="137" width="11" height="10" fill="#2e8dc1"/>
<rect x="422" y="137" width="30" height="10" fill="#2f81be"/>
<rect x="452" y="137" width="51" height="10" fill="#2f77ba"/>
<rect x="503" y="137" width="30" height="10" fill="#2f6db5"/>
<rect x="533" y="137" width="51" height="10" fill="#3064b1"/>
<rect x="584" y="137" width="71" height="10" fill="#345dac"/>
<rect x="655" y="137" width="31" height="10" fill="#3756a7"/>
<rect x="686" y="137" width="10" height="10" fill="#3950a4"/>
<rect x="696" y="137" width="10" height="10" fill="#3b4ca3"/>
<rect x="706" y="137" width="10" height="10" fill="#3e48a1"/>
<rect x="716" y="137" width="31" height="10" fill="#42449f"/>
<rect x="747" y="137" width="30" height="10" fill="#49409c"/>
<rect x="147" y="127" width="10" height="10" fill="#3b4ca3"/>
<rect x="157" y="127" width="11" height="10" fill="#3064b1"/>
<rect x="168" y="127" width="10" height="10" fill="#2aa2c4"/>
<rect x="178" y="127" width="10" height="10" fill="#3fbcbc"/>
<rect x="188" y="127" width="10" height="10" fill="#4ab693"/>
<rect x="198" y="127" width="10" height="10" fill="#4db47a"/>
<rect x="208" y="127" width="10" height="10" fill="#51b463"/>
<rect x="218" y="127" width="11" height="10" fill="#55b54e"/>
<rect x="229" y="127" width="10" height="10" fill="#56b546"/>
<rect x="239" y="127" width="10" height="10" fill="#57b53d"/>
<rect x="249" y="127" width="40" height="10" fill="#58b535"/>
<rect x="289" y="127" width="11" height="10" fill="#57b53d"/>
<rect x="300" y="127" width="10" height="10" fill="#56b546"/>
<rect x="310" y="127" width="10" height="10" fill="#55b54e"/>
<rect x="320" y="127" width="10" height="10" fill="#51b463"/>
<rect x="330" y="127" width="10" height="10" fill="#4db47a"/>
<rect x="340" y="127" width="10" height="10" fill="#49b79b"/>
<rect x="350" y="127" width="11" height="10" fill="#43baae"/>
<rect x="361" y="127" width="10" height="10" fill="#33b7c0"/>
<rect x="371" y="127" width="10" height="10" fill="#27aac3"/>
<rect x="381" y="127" width="10" height="10" fill="#2c98c3"/>
<rect x="391" y="127" width="10" height="10" fill="#2e8dc1"/>
<rect x="401" y="127" width="21" height="10" fill="#2f77ba"/>
<rect x="422" y="127" width="101" height="10" fill="#2f6db5"/>
<rect x="523" y="127" width="41" height="10" fill="#3064b1"/>
<rect x="564" y="127" width="81" height="10" fill="#345dac"/>
<rect x="645" y="127" width="41" height="10" fill="#3756a7"/>
<rect x="686" y="127" width="10" height="10" fill="#3950a4"/>
<rect x="696" y="127" width="10" height="10" fill="#3b4ca3"/>
<rect x="706" y="127" width="20" height="10" fill="#3e48a1"/>
<rect x="726" y="127" width="41" height="10" fill="#42449f"/>
<rect x="767" y="127" width="20" height="10" fill="#49409c"/>
<rect x="168" y="117" width="10" height="10" fill="#3950a4"/>
<rect x="178" y="117" width="10" height="10" fill="#2f81be"/>
<rect x="188" y="117" width="10" height="10" fill="#27aac3"/>
<rect x="198" y="117" width="10" height="10" fill="#3fbcbc"/>
<rect x="208" y="117" width="10" height="10" fill="#48b8a0"/>
<rect x="218" y="117" width="11" height="10" fill="#4ab693"/>
<rect x="229" y="117" width="10" height="10" fill="#4db47a"/>
<rect x="239" y="117" width="10" height="10" fill="#51b463"/>
<rect x="249" y="117" width="20" height="10" fill="#53b459"/>
<rect x="269" y="117" width="20" height="10" fill="#55b54e"/>
<rect x="289" y="117" width="11" height="10" fill="#53b459"/>
<rect x="300" y="117" width="10" height="10" fill="#51b463"/>
<rect x="310" y="117" width="10" height="10" fill="#4eb36e"/>
<rect x="320" y="117" width="10" height="10" fill="#4bb586"/>
<rect x="330" y="117" width="10" height="10" fill="#49b79b"/>
<rect x="340" y="117" width="10" height="10" fill="#43baae"/>
<rect x="350" y="117" width="11" height="10" fill="#33b7c0"/>
<rect x="361" y="117" width="10" height="10" fill="#27aac3"/>
<rect x="371" y="117" width="10" height="10" fill="#2aa2c4"/>
<rect x="381" y="117" width="10" height="10" fill="#2e8dc1"/>
<rect x="391" y="117" width="10" height="10" fill="#2f77ba"/>
<rect x="401" y="117" width="10" height="10" fill="#2f6db5"/>
<rect x="411" y="117" width="31" height="10" fill="#345dac"/>
<rect x="442" y="117" width="20" height="10" fill="#3756a7"/>
<rect x="462" y="117" width="163" height="10" fill="#345dac"/>
<rect x="625" y="117" width="61" height="10" fill="#3756a7"/>
<rect x="686" y="117" width="10" height="10" fill="#3950a4"/>
<rect x="696" y="117" width="20" height="10" fill="#3b4ca3"/>
<rect x="716" y="117" width="21" height="10" fill="#3e48a1"/>
<rect x="737" y="117" width="91" height="10" fill="#42449f"/>
<rect x="178" y="106" width="10" height="11" fill="#3e48a1"/>
<rect x="188" y="106" width="10" height="11" fill="#345dac"/>
<rect x="198" y="106" width="10" height="11" fill="#2f81be"/>
<rect x="208" y="106" width="10" height="11" fill="#2aa2c4"/>
<rect x="218" y="106" width="11" height="11" fill="#33b7c0"/>
<rect x="229" y="106" width="10" height="11" fill="#43baae"/>
<rect x="239" y="106" width="10" height="11" fill="#49b79b"/>
<rect x="249" y="106" width="10" height="11" fill="#4ab693"/>
<rect x="259" y="106" width="20" height="11" fill="#4bb586"/>
<rect x="279" y="106" width="10" height="11" fill="#4db47a"/>
<rect x="289" y="106" width="21" height="11" fill="#4bb586"/>
<rect x="310" y="106" width="10" height="11" fill="#4ab693"/>
<rect x="320" y="106" width="10" height="11" fill="#49b79b"/>
<rect x="330" y="106" width="10" height="11" fill="#43baae"/>
<rect x="340" y="106" width="10" height="11" fill="#33b7c0"/>
<rect x="350" y="106" width="11" height="11" fill="#26b1c3"/>
<rect x="361" y="106" width="10" height="11" fill="#2aa2c4"/>
<rect x="371" y="106" width="10" height="11" fill="#2e8dc1"/>
<rect x="381" y="106" width="10" height="11" fill="#2f77ba"/>
<rect x="391" y="106" width="10" height="11" fill="#3064b1"/>
<rect x="401" y="106" width="10" height="11" fill="#345dac"/>
<rect x="411" y="106" width="11" height="11" fill="#3756a7"/>
<rect x="422" y="106" width="81" height="11" fill="#3950a4"/>
<rect x="503" y="106" width="30" height="11" fill="#3756a7"/>
<rect x="533" y="106" width="61" height="11" fill="#345dac"/>
<rect x="594" y="106" width="92" height="11" fill="#3756a7"/>
<rect x="686" y="106" width="10" height="11" fill="#3950a4"/>
<rect x="696" y="106" width="20" height="11" fill="#3b4ca3"/>
<rect x="716" y="106" width="41" height="11" fill="#3e48a1"/>
<rect x="757" y="106" width="81" height="11" fill="#42449f"/>
<rect x="198" y="96" width="10" height="10" fill="#3e48a1"/>
<rect x="208" y="96" width="10" height="10" fill="#345dac"/>
<rect x="218" y="96" width="11" height="10" fill="#2f81be"/>
<rect x="229" y="96" width="10" height="10" fill="#2aa2c4"/>
<rect x="239" y="96" width="10" height="10" fill="#26b1c3"/>
<rect x="249" y="96" width="20" height="10" fill="#3fbcbc"/>
<rect x="269" y="96" width="51" height="10" fill="#43baae"/>
<rect x="320" y="96" width="10" height="10" fill="#33b7c0"/>
<rect x="330" y="96" width="10" height="10" fill="#26b1c3"/>
<rect x="340" y="96" width="10" height="10" fill="#27aac3"/>
<rect x="350" y="96" width="11" height="10" fill="#2aa2c4"/>
<rect x="361" y="96" width="10" height="10" fill="#2e8dc1"/>
<rect x="371" y="96" width="10" height="10" fill="#2f81be"/>
<rect x="381" y="96" width="10" height="10" fill="#2f6db5"/>
<rect x="391" y="96" width="10" height="10" fill="#3064b1"/>
<rect x="401" y="96" width="10" height="10" fill="#3756a7"/>
<rect x="411" y="96" width="21" height="10" fill="#3950a4"/>
<rect x="432" y="96" width="10" height="10" fill="#3b4ca3"/>
<rect x="442" y="96" width="51" height="10" fill="#3e48a1"/>
<rect x="493" y="96" width="10" height="10" fill="#3b4ca3"/>
<rect x="503" y="96" width="20" height="10" fill="#3950a4"/>
<rect x="523" y="96" width="153" height="10" fill="#3756a7"/>
<rect x="676" y="96" width="20" height="10" fill="#3950a4"/>
<rect x="696" y="96" width="30" height="10" fill="#3b4ca3"/>
<rect x="726" y="96" width="51" height="10" fill="#3e48a1"/>
<rect x="777" y="96" width="82" height="10" fill="#42449f"/>
<rect x="218" y="86" width="11" height="10" fill="#3b4ca3"/>
<rect x="229" y="86" width="10" height="10" fill="#3064b1"/>
<rect x="239" y="86" width="10" height="10" fill="#2f81be"/>
<rect x="249" y="86" width="10" height="10" fill="#2c98c3"/>
<rect x="259" y="86" width="10" height="10" fill="#27aac3"/>
<rect x="269" y="86" width="41" height="10" fill="#26b1c3"/>
<rect x="310" y="86" width="10" height="10" fill="#27aac3"/>
<rect x="320" y="86" width="10" height="10" fill="#2aa2c4"/>
<rect x="330" y="86" width="10" height="10" fill="#2c98c3"/>
<rect x="340" y="86" width="21" height="10" fill="#2e8dc1"/>
<rect x="361" y="86" width="10" height="10" fill="#2f81be"/>
<rect x="371" y="86" width="10" height="10" fill="#2f6db5"/>
<rect x="381" y="86" width="10" height="10" fill="#3064b1"/>
<rect x="391" y="86" width="10" height="10" fill="#345dac"/>
<rect x="401" y="86" width="10" height="10" fill="#3756a7"/>
<rect x="411" y="86" width="11" height="10" fill="#3950a4"/>
<rect x="422" y="86" width="10" height="10" fill="#3b4ca3"/>
<rect x="432" y="86" width="20" height="10" fill="#42449f"/>
<rect x="452" y="86" width="31" height="10" fill="#49409c"/>
<rect x="483" y="86" width="20" height="10" fill="#42449f"/>
<rect x="503" y="86" width="10" height="10" fill="#3e48a1"/>
<rect x="513" y="86" width="10" height="10" fill="#3b4ca3"/>
<rect x="523" y="86" width="10" height="10" fill="#3950a4"/>
<rect x="533" y="86" width="143" height="10" fill="#3756a7"/>
<rect x="676" y="86" width="20" height="10" fill="#3950a4"/>
<rect x="696" y="86" width="30" height="10" fill="#3b4ca3"/>
<rect x="726" y="86" width="92" height="10" fill="#3e48a1"/>
<rect x="818" y="86" width="51" height="10" fill="#42449f"/>
<rect x="229" y="76" width="10" height="10" fill="#3e48a1"/>
<rect x="239" y="76" width="10" height="10" fill="#3756a7"/>
<rect x="249" y="76" width="10" height="10" fill="#2f6db5"/>
<rect x="259" y="76" width="10" height="10" fill="#2f81be"/>
<rect x="269" y="76" width="31" height="10" fill="#2c98c3"/>
<rect x="300" y="76" width="10" height="10" fill="#2e8dc1"/>
<rect x="310" y="76" width="10" height="10" fill="#2f81be"/>
<rect x="320" y="76" width="20" height="10" fill="#2f77ba"/>
<rect x="340" y="76" width="31" height="10" fill="#2f6db5"/>
<rect x="371" y="76" width="10" height="10" fill="#3064b1"/>
<rect x="381" y="76" width="10" height="10" fill="#345dac"/>
<rect x="391" y="76" width="10" height="10" fill="#3756a7"/>
<rect x="401" y="76" width="10" height="10" fill="#3950a4"/>
<rect x="411" y="76" width="11" height="10" fill="#3b4ca3"/>
<rect x="422" y="76" width="10" height="10" fill="#3e48a1"/>
<rect x="432" y="76" width="10" height="10" fill="#49409c"/>
<rect x="493" y="76" width="10" height="10" fill="#49409c"/>
<rect x="503" y="76" width="10" height="10" fill="#42449f"/>
<rect x="513" y="76" width="10" height="10" fill="#3e48a1"/>
<rect x="523" y="76" width="10" height="10" fill="#3b4ca3"/>
<rect x="533" y="76" width="11" height="10" fill="#3950a4"/>
<rect x="544" y="76" width="81" height="10" fill="#3756a7"/>
<rect x="625" y="76" width="20" height="10" fill="#3950a4"/>
<rect x="645" y="76" width="20" height="10" fill="#3756a7"/>
<rect x="665" y="76" width="31" height="10" fill="#3950a4"/>
<rect x="696" y="76" width="30" height="10" fill="#3b4ca3"/>
<rect x="726" y="76" width="102" height="10" fill="#3e48a1"/>
<rect x="828" y="76" width="31" height="10" fill="#42449f"/>
<rect x="239" y="66" width="10" height="10" fill="#3b4ca3"/>
<rect x="249" y="66" width="10" height="10" fill="#345dac"/>
<rect x="259" y="66" width="10" height="10" fill="#2f6db5"/>
<rect x="269" y="66" width="31" height="10" fill="#2f81be"/>
<rect x="300" y="66" width="10" height="10" fill="#2f77ba"/>
<rect x="310" y="66" width="20" height="10" fill="#2f6db5"/>
<rect x="330" y="66" width="31" height="10" fill="#3064b1"/>
<rect x="361" y="66" width="20" height="10" fill="#345dac"/>
<rect x="381" y="66" width="20" height="10" fill="#3756a7"/>
<rect x="401" y="66" width="10" height="10" fill="#3950a4"/>
<rect x="411" y="66" width="11" height="10" fill="#3e48a1"/>
<rect x="422" y="66" width="10" height="10" fill="#42449f"/>
<rect x="432" y="66" width="10" height="10" fill="#49409c"/>
<rect x="503" y="66" width="10" height="10" fill="#42449f"/>
<rect x="513" y="66" width="10" height="10" fill="#3e48a1"/>
<rect x="523" y="66" width="21" height="10" fill="#3b4ca3"/>
<rect x="544" y="66" width="10" height="10" fill="#3950a4"/>
<rect x="554" y="66" width="10" height="10" fill="#3756a7"/>
<rect x="564" y="66" width="112" height="10" fill="#3950a4"/>
<rect x="676" y="66" width="61" height="10" fill="#3b4ca3"/>
<rect x="737" y="66" width="101" height="10" fill="#3e48a1"/>
<rect x="838" y="66" width="21" height="10" fill="#42449f"/>
</g>
<clipPath id="mk"><rect x="249" y="461" width="193" height="11"/><rect x="503" y="461" width="437" height="11"/><rect x="229" y="451" width="213" height="10"/><rect x="472" y="451" width="488" height="10"/><rect x="208" y="441" width="762" height="10"/><rect x="198" y="431" width="772" height="10"/><rect x="178" y="421" width="782" height="10"/><rect x="168" y="411" width="762" height="10"/><rect x="147" y="401" width="762" height="10"/><rect x="137" y="390" width="772" height="11"/><rect x="117" y="380" width="792" height="10"/><rect x="107" y="370" width="813" height="10"/><rect x="86" y="360" width="844" height="10"/><rect x="76" y="350" width="864" height="10"/><rect x="66" y="340" width="864" height="10"/><rect x="56" y="330" width="864" height="10"/><rect x="46" y="319" width="874" height="11"/><rect x="46" y="309" width="863" height="10"/><rect x="46" y="299" width="863" height="10"/><rect x="46" y="289" width="914" height="10"/><rect x="46" y="279" width="955" height="10"/><rect x="46" y="269" width="985" height="10"/><rect x="46" y="259" width="1016" height="10"/><rect x="46" y="248" width="1006" height="11"/><rect x="46" y="238" width="995" height="10"/><rect x="46" y="228" width="985" height="10"/><rect x="46" y="218" width="975" height="10"/><rect x="46" y="208" width="955" height="10"/><rect x="46" y="198" width="945" height="10"/><rect x="56" y="188" width="925" height="10"/><rect x="66" y="177" width="915" height="11"/><rect x="86" y="167" width="823" height="10"/><rect x="930" y="167" width="30" height="10"/><rect x="107" y="157" width="782" height="10"/><rect x="117" y="147" width="650" height="10"/><rect x="137" y="137" width="640" height="10"/><rect x="147" y="127" width="640" height="10"/><rect x="168" y="117" width="660" height="10"/><rect x="178" y="106" width="660" height="11"/><rect x="198" y="96" width="661" height="10"/><rect x="218" y="86" width="651" height="10"/><rect x="229" y="76" width="213" height="10"/><rect x="493" y="76" width="366" height="10"/><rect x="239" y="66" width="203" height="10"/><rect x="503" y="66" width="356" height="10"/></clipPath>
<g fill="none" stroke="#000" stroke-width="1.5" stroke-linejoin="round" clip-path="url(#mk)">
<path d="M47.5 210.5C48.8 208.9 52.7 204.0 55.4 201.2C58.1 198.3 60.7 195.8 63.6 193.4C66.5 191.0 69.5 188.6 72.6 186.5C75.7 184.4 79.0 182.5 82.4 180.7C85.8 178.9 89.5 177.5 93.0 175.7C96.5 173.8 100.1 171.7 103.6 169.6C107.1 167.6 110.6 165.4 114.2 163.2C117.8 161.0 120.7 159.1 125.0 156.3C129.3 153.5 134.2 150.3 140.0 146.4C145.8 142.6 152.5 138.0 160.0 133.2C167.5 128.5 176.7 122.6 185.0 117.9C193.3 113.2 202.8 108.7 210.0 105.0C217.2 101.3 221.7 98.8 228.0 95.5C234.3 92.2 242.9 88.3 248.0 85.5C253.1 82.7 255.6 81.2 258.4 78.9C261.1 76.6 263.5 72.7 264.5 71.5"/>
<path d="M305.0 71.5C307.4 72.3 312.5 74.7 319.2 76.3C325.9 77.9 336.9 80.0 345.3 81.2C353.7 82.4 363.8 81.6 369.8 83.5C375.8 85.4 378.2 88.5 381.2 92.7C384.2 97.0 384.5 103.8 387.8 109.0C391.1 114.2 396.5 120.3 400.8 123.7C405.1 127.1 406.8 128.5 413.9 129.6C421.0 130.7 433.0 130.4 443.3 130.2C453.6 130.0 465.9 128.9 475.9 128.6C485.9 128.3 496.3 127.3 503.2 128.5C510.1 129.7 513.0 131.2 517.4 135.6C521.8 139.9 525.3 148.7 529.3 154.6C533.3 160.5 537.0 166.7 541.2 171.2C545.4 175.7 548.1 177.6 554.4 181.6C560.7 185.6 570.2 189.7 579.1 194.9C588.0 200.1 598.9 208.0 607.6 212.9C616.3 217.8 623.8 220.2 631.3 224.3C638.8 228.4 647.1 233.0 652.6 237.6C658.1 242.2 661.7 247.5 664.5 251.8C667.3 256.2 669.6 260.8 669.2 263.7C668.8 266.6 666.1 267.4 662.1 269.4C658.1 271.4 650.6 272.9 645.5 275.5C640.4 278.1 635.2 281.4 631.3 285.0C627.3 288.6 623.5 292.1 621.8 296.9C620.1 301.6 621.3 308.4 620.9 313.5C620.5 318.6 621.2 323.8 619.4 327.7C617.6 331.6 613.0 336.0 609.9 337.2C606.8 338.4 603.3 336.8 600.5 334.8C597.7 332.8 596.1 327.5 593.3 325.3C590.5 323.1 586.9 321.2 583.9 321.5C580.9 321.8 577.3 324.6 575.3 326.8C573.3 329.0 571.0 331.9 572.0 334.8C573.0 337.7 577.1 341.5 581.5 344.3C585.9 347.1 593.4 347.8 598.1 351.4C602.8 355.0 607.1 361.3 609.9 365.7C612.7 370.1 614.7 373.9 614.7 377.5C614.7 381.1 612.7 384.4 609.9 387.0C607.1 389.6 603.2 391.6 598.1 393.2C593.0 394.8 586.4 395.6 579.1 396.5C571.8 397.4 561.4 397.9 554.4 398.9C547.4 399.8 543.5 400.8 537.3 402.2C531.1 403.6 523.6 405.8 517.4 407.4C511.2 409.0 507.4 411.1 500.0 412.0C492.6 412.9 482.5 412.6 473.3 412.9C464.1 413.2 454.5 413.3 444.8 414.0C435.1 414.7 423.6 416.4 415.4 417.3C407.2 418.2 402.3 417.8 395.8 419.3C389.3 420.8 382.2 422.6 376.2 426.5C370.2 430.4 365.3 437.9 359.9 442.8C354.5 447.7 348.9 451.6 343.6 455.8C338.3 460.0 330.6 466.0 328.0 468.0"/>
<path d="M47.6 322.7C48.6 323.6 51.5 326.3 53.8 328.4C56.1 330.4 58.8 332.8 61.2 335.0C63.7 337.2 65.9 339.3 68.5 341.5C71.1 343.7 73.8 346.1 76.7 348.4C79.6 350.7 82.7 353.2 85.7 355.5C88.7 357.8 91.5 360.0 94.6 362.2C97.7 364.5 101.1 366.9 104.4 369.1C107.7 371.3 110.8 373.4 114.2 375.6C117.6 377.8 121.7 380.3 125.0 382.3C128.3 384.4 129.8 385.3 134.0 387.7C138.2 390.1 143.6 393.2 150.0 396.6C156.4 400.1 164.9 404.5 172.3 408.4C179.7 412.2 187.1 415.9 194.5 419.7C201.9 423.5 209.4 427.3 216.8 431.2C224.2 435.2 233.4 440.2 239.0 443.5C244.6 446.8 244.9 448.9 250.1 451.3C255.3 453.7 264.1 455.4 270.2 457.9C276.3 460.4 283.8 465.1 286.5 466.5"/>
<path d="M47.5 219.0C48.7 217.3 52.2 211.8 54.6 208.6C57.0 205.4 59.4 202.6 62.0 199.9C64.6 197.2 67.2 194.5 70.1 192.2C72.9 189.9 76.0 187.8 79.1 186.0C82.2 184.1 85.5 182.9 88.9 181.1C92.3 179.3 96.0 177.3 99.5 175.3C103.0 173.3 106.7 171.3 110.2 169.2C113.8 167.2 116.8 165.4 120.8 163.1C124.8 160.7 129.6 157.8 134.0 155.2C138.4 152.6 142.7 150.0 147.0 147.4C151.3 144.9 153.6 143.5 160.0 139.7C166.4 136.0 176.8 129.4 185.2 124.9C193.6 120.5 202.0 117.0 210.4 113.0C218.8 109.0 228.1 104.4 235.7 101.0C243.3 97.6 249.5 94.7 255.8 92.5C262.1 90.3 267.6 88.7 273.5 87.7C279.4 86.7 284.8 86.4 291.1 86.5C297.4 86.6 305.0 86.9 311.3 88.2C317.6 89.5 322.5 92.5 329.0 94.3C335.5 96.1 344.8 96.8 350.2 99.2C355.6 101.7 358.1 105.2 361.6 109.0C365.1 112.8 368.7 117.7 371.4 122.0C374.1 126.3 374.7 131.3 378.0 135.1C381.3 138.9 385.6 141.9 391.0 144.9C396.4 147.9 404.6 150.9 410.6 153.1C416.6 155.3 422.3 155.8 426.9 158.0C431.5 160.2 436.1 160.7 438.4 166.1C440.7 171.5 440.2 182.2 440.7 190.6C441.2 199.0 440.1 208.5 441.6 216.7C443.1 224.9 445.7 233.1 449.8 239.6C453.9 246.1 460.8 251.5 466.1 255.9C471.5 260.3 478.2 262.9 481.9 266.0C485.5 269.1 488.4 271.8 488.0 274.6C487.6 277.4 484.0 279.6 479.5 282.6C475.0 285.6 466.4 288.8 461.1 292.6C455.9 296.5 450.8 300.2 448.0 305.7C445.2 311.1 444.1 318.8 444.1 325.3C444.1 331.8 448.4 338.4 448.0 344.9C447.6 351.4 444.8 358.4 441.5 364.4C438.2 370.4 433.9 376.4 428.5 380.8C423.1 385.2 416.5 387.6 408.9 390.6C401.3 393.6 390.4 395.4 382.8 398.7C375.2 401.9 368.6 405.5 363.2 410.1C357.8 414.7 355.6 421.1 350.1 426.5C344.7 431.9 337.2 438.7 330.5 442.8C323.8 446.9 317.8 450.5 310.0 451.3C302.2 452.1 291.6 449.6 283.5 447.9C275.4 446.2 268.7 443.7 261.3 441.3C253.9 438.9 246.4 436.5 239.0 433.5C231.6 430.5 224.2 426.7 216.8 423.3C209.4 419.9 201.9 416.4 194.5 413.0C187.1 409.6 179.7 406.4 172.3 402.9C164.9 399.4 156.4 395.3 150.0 392.1C143.6 388.9 138.6 386.1 134.0 383.6C129.4 381.1 126.0 379.0 122.4 376.9C118.8 374.8 115.9 372.9 112.6 370.8C109.3 368.7 106.1 366.6 102.8 364.3C99.5 362.1 96.1 359.6 93.0 357.3C89.9 355.0 86.8 352.8 84.0 350.5C81.2 348.2 78.6 345.8 75.9 343.5C73.2 341.2 70.3 338.8 67.7 336.6C65.1 334.4 62.6 332.3 60.3 330.1C58.0 327.9 55.9 325.7 53.8 323.5C51.7 321.3 48.6 318.1 47.6 317.0"/>
<path d="M47.5 228.0C48.5 226.2 51.7 220.7 53.8 217.5C55.9 214.3 58.0 211.4 60.3 208.6C62.6 205.8 65.1 203.0 67.7 200.4C70.3 197.8 73.1 195.3 75.9 193.0C78.8 190.7 81.7 188.6 84.8 186.8C87.9 184.9 91.2 183.6 94.6 181.8C98.0 179.9 101.8 177.8 105.3 175.8C108.8 173.9 112.2 172.0 115.9 169.9C119.6 167.8 123.3 165.7 127.3 163.5C131.3 161.2 134.6 159.3 140.0 156.3C145.4 153.3 152.5 149.4 160.0 145.4C167.5 141.4 176.8 136.2 185.2 132.4C193.6 128.5 202.0 125.8 210.4 122.5C218.8 119.2 228.1 115.2 235.7 112.5C243.3 109.8 248.7 107.6 255.8 106.0C262.9 104.4 271.2 103.6 278.5 103.0C285.8 102.4 292.3 101.7 299.6 102.4C306.9 103.1 316.1 105.1 322.4 107.3C328.6 109.5 332.7 112.0 337.1 115.5C341.5 119.0 344.8 123.7 348.6 128.6C352.4 133.5 355.6 139.5 360.0 144.9C364.4 150.3 370.1 156.3 374.7 161.2C379.3 166.1 384.8 169.4 387.8 174.3C390.8 179.2 391.6 184.6 392.7 190.6C393.8 196.6 392.9 203.1 394.3 210.2C395.7 217.3 398.1 225.5 400.8 233.1C403.5 240.7 408.2 249.7 410.6 255.9C413.0 262.2 414.6 264.5 414.9 270.6C415.1 276.7 414.2 285.1 412.1 292.6C410.0 300.1 405.3 307.9 402.3 315.5C399.3 323.1 397.2 330.7 394.2 338.3C391.2 345.9 387.4 354.7 384.4 361.2C381.4 367.7 380.8 371.5 376.2 377.5C371.6 383.5 362.1 391.1 356.7 397.1C351.3 403.1 349.1 408.0 343.6 413.4C338.2 418.8 331.3 425.9 324.0 429.7C316.7 433.5 306.8 435.4 300.0 436.4C293.2 437.4 289.9 436.4 283.5 435.7C277.1 435.0 268.7 434.1 261.3 432.4C253.9 430.7 246.4 428.4 239.0 425.7C231.6 423.0 224.2 419.6 216.8 416.4C209.4 413.2 201.9 409.8 194.5 406.6C187.1 403.4 179.7 400.5 172.3 397.4C164.9 394.2 156.4 390.4 150.0 387.5C143.6 384.5 137.8 381.5 134.0 379.6C130.2 377.7 130.1 377.6 127.3 376.1C124.5 374.6 120.9 372.6 117.5 370.6C114.1 368.6 110.3 366.3 106.9 364.1C103.5 361.9 100.2 359.7 97.1 357.5C94.0 355.4 90.9 353.2 88.1 351.0C85.2 348.9 82.7 347.0 80.0 344.8C77.3 342.5 74.4 339.7 71.8 337.4C69.2 335.1 66.7 333.1 64.4 330.9C62.1 328.7 59.9 326.7 57.9 324.4C55.9 322.1 53.9 319.3 52.2 317.0C50.5 314.7 48.4 311.6 47.6 310.5"/>
<path d="M47.5 238.0C48.4 236.2 51.1 230.6 53.0 227.3C54.9 224.0 56.7 221.4 58.7 218.4C60.7 215.4 62.9 212.3 65.2 209.4C67.5 206.5 70.0 203.8 72.6 201.2C75.2 198.6 77.9 196.2 80.8 194.1C83.7 192.0 86.6 190.4 89.7 188.5C92.8 186.5 96.1 184.5 99.5 182.4C102.9 180.4 106.7 178.2 110.2 176.2C113.8 174.2 117.1 172.4 120.8 170.4C124.5 168.5 128.2 166.6 132.2 164.6C136.2 162.5 140.4 160.5 145.0 158.3C149.6 156.2 153.3 154.5 160.0 151.5C166.7 148.4 176.8 143.5 185.2 140.1C193.6 136.7 202.0 133.9 210.4 131.0C218.8 128.1 228.1 124.8 235.7 122.5C243.3 120.2 248.4 118.4 255.8 117.0C263.2 115.6 272.7 114.0 280.0 113.9C287.3 113.8 293.6 114.9 299.6 116.2C305.6 117.5 311.0 119.7 315.9 122.0C320.8 124.3 325.2 126.9 329.0 130.2C332.8 133.5 335.3 136.4 338.8 141.6C342.3 146.8 346.4 154.7 350.2 161.2C354.0 167.7 358.1 174.3 361.6 180.8C365.1 187.3 368.7 193.9 371.4 200.4C374.1 206.9 376.1 213.5 378.0 220.0C379.9 226.5 381.5 233.6 382.9 239.6C384.2 245.6 385.5 250.7 386.1 255.9C386.8 261.1 387.9 262.9 386.8 270.6C385.7 278.4 382.4 291.6 379.5 302.4C376.6 313.1 373.0 324.8 369.7 335.1C366.4 345.4 363.2 355.7 359.9 364.4C356.6 373.1 355.0 380.2 350.1 387.3C345.2 394.4 337.0 401.9 330.5 406.9C324.0 411.9 318.8 414.7 311.0 417.5C303.2 420.3 291.8 422.9 283.5 423.5C275.2 424.1 268.7 422.3 261.3 421.2C253.9 420.1 246.4 418.9 239.0 416.8C231.6 414.7 224.2 411.4 216.8 408.5C209.4 405.6 201.9 402.5 194.5 399.6C187.1 396.8 179.7 394.3 172.3 391.4C164.9 388.5 156.4 385.2 150.0 382.5C143.6 379.8 137.8 377.0 134.0 375.3C130.2 373.5 130.2 373.4 127.3 371.9C124.4 370.4 120.2 368.2 116.7 366.2C113.2 364.2 109.5 362.0 106.1 359.9C102.7 357.8 99.4 355.6 96.3 353.5C93.2 351.3 90.2 349.3 87.3 347.1C84.4 344.8 81.7 342.2 79.1 339.9C76.5 337.6 74.2 335.6 71.8 333.3C69.3 331.0 66.7 328.4 64.4 326.0C62.1 323.6 59.9 321.2 57.9 318.6C55.9 316.0 53.9 313.2 52.2 310.5C50.5 307.8 48.4 303.7 47.6 302.3"/>
<path d="M47.5 256.0C47.7 255.3 47.8 254.3 48.6 252.0C49.4 249.7 50.8 245.4 52.2 242.0C53.6 238.6 55.3 234.8 57.1 231.4C58.9 228.0 60.8 224.9 62.8 221.6C64.8 218.3 67.0 214.8 69.3 211.8C71.6 208.8 74.1 206.2 76.7 203.7C79.3 201.2 82.0 198.7 84.8 196.5C87.6 194.3 90.7 192.4 93.8 190.3C96.9 188.3 100.2 186.1 103.6 184.1C107.0 182.0 110.5 179.9 114.2 177.9C117.9 175.9 121.4 174.1 125.7 172.0C130.0 169.9 134.3 167.9 140.0 165.5C145.7 163.1 152.5 160.4 160.0 157.7C167.5 154.9 176.8 151.5 185.2 148.8C193.6 146.0 202.0 143.4 210.4 141.0C218.8 138.6 228.1 136.2 235.7 134.5C243.3 132.8 248.4 131.6 255.8 130.6C263.2 129.6 273.2 128.4 280.0 128.6C286.8 128.8 290.9 129.9 296.3 131.8C301.8 133.7 307.8 136.4 312.7 140.0C317.6 143.6 321.6 147.9 325.7 153.1C329.8 158.3 333.6 164.8 337.1 171.0C340.6 177.2 343.9 184.1 346.9 190.6C349.9 197.1 352.7 203.7 355.1 210.2C357.6 216.7 359.7 223.3 361.6 229.8C363.5 236.3 365.4 242.6 366.5 249.4C367.6 256.2 369.0 261.8 368.2 270.6C367.4 279.4 364.1 292.8 361.6 302.4C359.1 312.0 356.4 319.8 353.4 328.5C350.4 337.2 346.9 347.0 343.6 354.6C340.3 362.2 338.2 367.7 333.8 374.2C329.4 380.7 322.9 389.2 317.5 393.8C312.1 398.4 306.2 400.0 301.3 402.0C296.4 404.0 293.6 404.5 288.0 405.7C282.4 406.9 276.1 409.0 267.9 409.0C259.7 409.0 247.5 407.1 239.0 405.7C230.5 404.3 224.2 402.5 216.8 400.3C209.4 398.1 201.9 394.9 194.5 392.4C187.1 389.8 179.7 387.5 172.3 384.8C164.9 382.2 156.4 378.9 150.0 376.3C143.6 373.7 137.8 370.9 134.0 369.2C130.2 367.5 130.3 367.5 127.3 366.0C124.3 364.4 119.6 362.0 115.9 360.0C112.2 358.0 108.7 355.9 105.3 353.9C101.9 351.8 98.6 350.0 95.5 347.8C92.4 345.6 89.4 343.1 86.5 340.7C83.6 338.3 80.9 335.8 78.3 333.3C75.7 330.9 73.3 328.6 71.0 326.0C68.7 323.4 66.6 320.7 64.4 317.8C62.2 314.9 59.9 311.9 57.9 308.8C55.9 305.7 53.9 302.3 52.2 299.0C50.5 295.7 48.4 290.8 47.6 289.2"/>
<path d="M53.0 270.0C53.3 265.9 54.3 261.1 55.4 256.7C56.5 252.3 58.0 247.8 59.5 243.7C61.0 239.6 62.6 235.9 64.4 232.2C66.2 228.5 68.0 225.0 70.1 221.6C72.1 218.2 74.4 214.8 76.7 211.8C79.0 208.8 81.4 206.3 84.0 203.7C86.6 201.1 89.3 198.7 92.2 196.4C95.1 194.2 98.1 192.1 101.2 190.1C104.3 188.0 107.6 185.9 111.0 183.9C114.4 182.0 117.8 180.2 121.6 178.3C125.4 176.5 129.8 174.6 134.0 172.9C138.2 171.2 142.7 169.7 147.0 168.2C151.3 166.8 153.7 166.1 160.0 164.3C166.3 162.5 176.7 159.6 185.0 157.4C193.3 155.2 201.6 152.8 210.0 151.0C218.4 149.2 228.1 147.6 235.7 146.8C243.3 146.0 249.9 146.0 255.8 146.0C261.7 146.0 266.8 146.4 271.0 147.0C275.2 147.6 277.3 148.2 281.0 149.5C284.7 150.8 288.9 152.5 293.1 155.0C297.3 157.5 301.8 159.7 306.1 164.5C310.5 169.3 315.4 177.6 319.2 184.1C323.0 190.6 325.7 196.6 329.0 203.7C332.3 210.8 335.8 218.9 338.8 226.5C341.8 234.1 345.0 242.1 346.9 249.4C348.8 256.8 350.8 262.9 350.2 270.6C349.6 278.4 346.1 287.9 343.6 295.9C341.1 303.9 338.4 311.1 335.4 318.7C332.4 326.3 329.2 334.0 325.7 341.6C322.2 349.2 318.3 358.8 314.2 364.4C310.1 370.0 305.7 371.6 301.3 375.0C296.9 378.4 293.9 381.4 288.0 384.5C282.1 387.6 273.9 391.9 265.7 393.4C257.5 394.9 247.2 394.1 239.0 393.4C230.8 392.7 224.2 391.2 216.8 389.5C209.4 387.8 201.9 385.3 194.5 383.2C187.1 381.0 179.7 379.0 172.3 376.7C164.9 374.3 156.4 371.2 150.0 368.8C143.6 366.4 138.9 364.3 134.0 362.1C129.1 359.9 124.9 357.8 120.8 355.7C116.7 353.6 112.8 351.4 109.3 349.4C105.8 347.5 102.6 345.9 99.5 343.8C96.4 341.6 93.4 339.2 90.6 336.6C87.8 334.0 85.0 331.1 82.4 328.4C79.8 325.7 77.3 323.1 75.0 320.3C72.7 317.5 70.5 314.3 68.5 311.3C66.5 308.3 64.6 305.4 62.8 302.3C61.0 299.2 59.4 296.1 57.9 292.5C56.4 288.9 54.6 284.8 53.8 281.0C53.0 277.2 52.7 274.1 53.0 270.0"/>
<path d="M64.4 270.0C64.7 265.9 65.3 261.1 66.1 256.7C66.9 252.3 68.1 247.8 69.3 243.7C70.5 239.6 71.8 236.0 73.4 232.2C75.0 228.4 77.0 224.3 79.1 220.8C81.1 217.3 83.4 214.0 85.7 211.0C88.0 208.0 90.3 205.4 93.0 202.8C95.7 200.2 98.9 197.8 102.0 195.6C105.1 193.3 108.4 191.3 111.8 189.3C115.2 187.3 118.7 185.3 122.4 183.5C126.1 181.7 129.9 179.9 134.0 178.3C138.1 176.7 142.7 175.0 147.0 173.7C151.3 172.3 154.5 171.3 160.0 170.0C165.5 168.7 173.7 167.0 180.0 165.7C186.3 164.3 192.0 163.1 197.8 162.1C203.6 161.1 209.1 160.0 215.0 159.5C220.9 159.0 227.6 158.7 233.1 158.9C238.6 159.1 243.4 159.5 248.0 160.5C252.6 161.5 256.9 162.9 260.9 164.7C264.9 166.4 268.6 168.7 272.0 171.0C275.4 173.3 278.1 175.8 281.1 178.5C284.1 181.2 286.2 182.8 289.8 187.0C293.4 191.2 299.1 197.6 302.9 203.7C306.7 209.8 309.4 216.2 312.7 223.3C315.9 230.4 319.7 238.2 322.4 246.1C325.1 254.0 328.4 262.3 329.0 270.6C329.6 278.9 327.9 287.9 325.7 295.9C323.5 303.9 319.4 311.6 315.9 318.7C312.3 325.8 307.6 333.8 304.4 338.3C301.2 342.9 299.6 343.3 296.9 346.0C294.2 348.7 291.7 351.2 288.0 354.5C284.3 357.8 280.2 362.1 274.6 365.6C269.0 369.1 262.4 373.6 254.6 375.6C246.8 377.6 236.8 377.9 227.9 377.8C219.0 377.7 210.5 376.7 201.2 375.0C191.9 373.2 180.8 370.0 172.3 367.5C163.8 365.1 156.4 362.5 150.0 360.2C143.6 357.9 138.1 355.5 134.0 353.7C129.9 352.0 129.3 351.6 125.7 350.0C122.1 348.3 116.5 345.9 112.6 343.7C108.6 341.4 105.3 339.1 102.0 336.6C98.7 334.1 95.7 331.1 93.0 328.4C90.3 325.7 88.0 323.1 85.7 320.3C83.4 317.5 81.1 314.3 79.1 311.3C77.0 308.3 75.2 305.4 73.4 302.3C71.6 299.2 70.0 296.1 68.5 292.5C67.0 288.9 65.1 284.8 64.4 281.0C63.7 277.2 64.1 274.1 64.4 270.0"/>
<path d="M75.0 270.0C75.1 265.9 76.0 261.1 76.7 256.7C77.4 252.3 78.0 248.0 79.1 243.7C80.2 239.3 81.6 234.7 83.2 230.6C84.8 226.5 86.7 222.7 88.9 219.2C91.1 215.7 93.7 212.3 96.3 209.4C98.9 206.5 101.4 204.3 104.4 202.0C107.4 199.7 110.9 197.4 114.2 195.5C117.5 193.6 120.7 192.1 124.0 190.6C127.3 189.1 130.2 187.8 134.0 186.5C137.8 185.2 142.7 184.0 147.0 183.0C151.3 182.0 153.6 181.5 160.0 180.5C166.4 179.5 177.7 177.8 185.2 177.0C192.7 176.2 198.8 175.6 205.0 175.5C211.2 175.4 216.3 175.4 222.7 176.5C229.1 177.6 237.5 179.8 243.2 182.0C248.9 184.2 252.8 186.7 257.0 189.5C261.2 192.3 264.7 194.9 268.5 199.0C272.3 203.1 276.4 208.3 280.0 214.0C283.6 219.7 286.8 226.7 289.8 233.1C292.8 239.5 295.8 246.4 298.0 252.7C300.2 258.9 302.6 264.0 302.9 270.6C303.1 277.2 301.4 285.7 299.5 292.6C297.6 299.5 294.9 305.7 291.4 312.2C287.9 318.7 282.6 326.9 278.3 331.8C274.0 336.7 269.6 338.8 265.7 341.5C261.8 344.2 259.1 345.3 254.6 347.8C250.2 350.3 245.3 354.3 239.0 356.7C232.7 359.1 224.2 361.6 216.8 362.3C209.4 363.1 201.9 362.1 194.5 361.2C187.1 360.3 179.7 358.4 172.3 356.7C164.9 355.0 156.4 352.8 150.0 351.1C143.6 349.4 139.4 348.5 134.0 346.4C128.6 344.2 122.0 340.8 117.5 338.2C113.0 335.6 110.2 333.6 106.9 330.9C103.6 328.2 100.6 324.9 97.9 321.9C95.2 318.9 92.9 316.0 90.6 312.9C88.3 309.8 85.9 306.5 84.0 303.1C82.1 299.7 80.4 296.2 79.1 292.5C77.8 288.8 76.6 284.8 75.9 281.0C75.2 277.2 74.9 274.1 75.0 270.0"/>
<path d="M86.5 270.0C86.5 265.7 86.8 261.1 87.3 256.7C87.8 252.3 88.6 248.0 89.7 243.7C90.8 239.3 92.0 234.7 93.8 230.6C95.6 226.5 98.0 222.5 100.4 219.2C102.9 215.9 105.7 213.3 108.5 211.0C111.3 208.7 114.4 206.9 117.5 205.3C120.6 203.7 123.5 202.5 127.3 201.2C131.1 199.9 134.6 198.5 140.0 197.5C145.4 196.5 153.8 195.7 160.0 195.0C166.2 194.3 171.2 193.5 177.0 193.1C182.8 192.7 189.6 192.5 195.0 192.6C200.4 192.7 204.0 192.0 209.7 193.8C215.4 195.6 223.2 198.7 229.2 203.6C235.2 208.5 240.9 216.6 245.5 223.1C250.1 229.6 254.2 236.2 257.0 242.7C259.8 249.2 261.5 257.7 262.5 262.3C263.5 266.9 263.6 264.8 263.0 270.4C262.4 276.0 261.0 288.4 258.7 295.9C256.4 303.4 253.3 309.5 249.0 315.5C244.7 321.5 238.0 327.9 232.6 331.8C227.2 335.7 223.2 336.6 216.8 338.9C210.5 341.2 201.9 344.3 194.5 345.6C187.1 346.9 178.7 346.8 172.3 346.7C165.9 346.6 160.0 345.6 156.3 345.0C152.6 344.4 153.7 344.7 150.0 343.4C146.3 342.1 138.9 339.5 134.0 337.4C129.1 335.3 124.6 333.2 120.8 330.9C117.0 328.6 114.0 326.1 111.0 323.5C108.0 320.9 105.2 318.4 102.8 315.4C100.3 312.4 98.3 309.2 96.3 305.6C94.3 302.1 92.1 297.9 90.6 294.1C89.1 290.3 88.0 286.7 87.3 282.7C86.6 278.7 86.5 274.3 86.5 270.0"/>
<path d="M100.4 270.0C100.3 265.4 100.1 261.1 100.4 256.7C100.7 252.3 101.0 247.8 102.0 243.7C103.0 239.6 104.3 235.5 106.1 232.2C107.9 228.9 110.1 226.4 112.6 224.1C115.0 221.8 117.8 220.1 120.8 218.4C123.8 216.7 127.4 215.0 130.6 213.9C133.8 212.8 136.6 212.3 140.0 211.8C143.4 211.3 146.7 211.2 150.9 211.1C155.1 211.0 160.7 211.1 165.0 211.5C169.3 211.9 172.3 211.4 177.0 213.3C181.7 215.2 189.1 218.8 193.3 223.1C197.5 227.4 200.1 233.9 202.2 239.4C204.3 244.9 205.1 250.6 205.7 255.8C206.3 261.0 205.9 265.8 205.9 270.4C205.9 275.0 206.3 278.8 205.7 283.7C205.1 288.6 204.3 294.7 202.2 300.1C200.1 305.6 197.5 312.2 193.3 316.4C189.1 320.6 182.8 323.6 177.0 325.5C171.2 327.4 163.6 327.3 158.4 327.5C153.2 327.7 150.1 327.2 146.0 326.5C141.9 325.8 138.2 325.1 134.0 323.5C129.8 321.9 124.4 319.4 120.8 317.0C117.2 314.6 115.0 312.1 112.6 308.8C110.1 305.5 108.0 301.5 106.1 297.4C104.2 293.3 102.2 288.9 101.2 284.3C100.2 279.7 100.5 274.6 100.4 270.0"/>
<path d="M122.4 270.0C122.0 265.4 121.3 260.6 121.6 256.7C121.9 252.8 122.8 249.5 124.0 246.9C125.2 244.3 127.2 242.5 128.9 241.2C130.6 239.8 132.2 239.3 134.0 238.8C135.8 238.3 137.5 238.1 139.5 238.3C141.5 238.5 144.0 238.8 146.0 239.8C148.0 240.8 149.9 241.8 151.5 244.5C153.1 247.2 155.0 251.5 155.8 255.8C156.6 260.1 156.6 265.5 156.5 270.4C156.4 275.3 156.1 281.1 155.0 285.0C153.9 288.9 152.2 291.8 150.0 294.0C147.8 296.2 144.8 298.1 141.8 298.2C138.8 298.3 135.0 296.9 132.0 294.5C129.0 292.1 125.6 288.1 124.0 284.0C122.4 279.9 122.8 274.6 122.4 270.0"/>
</g>
<g shape-rendering="crispEdges" fill="#000">
<rect x="48" y="66" width="1522" height="3"/>
<rect x="41" y="270" width="1529" height="2"/>
<rect x="46" y="472" width="1524" height="2"/>
<rect x="46" y="100" width="2" height="329"/>
<rect x="41" y="168" width="6" height="2"/>
<rect x="41" y="370" width="6" height="2"/>
<rect x="46" y="472" width="2" height="7"/>
<rect x="148" y="472" width="2" height="7"/>
<rect x="249" y="472" width="2" height="7"/>
<rect x="351" y="472" width="2" height="7"/>
<rect x="451" y="472" width="2" height="7"/>
<rect x="553" y="472" width="2" height="7"/>
<rect x="655" y="472" width="2" height="7"/>
<rect x="757" y="472" width="2" height="7"/>
<rect x="859" y="472" width="2" height="7"/>
<rect x="961" y="472" width="2" height="7"/>
<rect x="1063" y="472" width="2" height="7"/>
<rect x="1165" y="472" width="2" height="7"/>
<rect x="1264" y="472" width="2" height="7"/>
<rect x="1366" y="472" width="2" height="7"/>
<rect x="1468" y="472" width="2" height="7"/>
</g>
<rect x="553" y="69" width="2" height="403" fill="#fff" shape-rendering="crispEdges"/>
<rect x="553" y="73" width="2" height="7" fill="#000" shape-rendering="crispEdges"/>
<rect x="553" y="87" width="2" height="6" fill="#000" shape-rendering="crispEdges"/>
<rect x="553" y="100" width="2" height="7" fill="#000" shape-rendering="crispEdges"/>
<rect x="553" y="114" width="2" height="6" fill="#000" shape-rendering="crispEdges"/>
<rect x="553" y="127" width="2" height="7" fill="#000" shape-rendering="crispEdges"/>
<rect x="553" y="141" width="2" height="7" fill="#000" shape-rendering="crispEdges"/>
<rect x="553" y="155" width="2" height="6" fill="#000" shape-rendering="crispEdges"/>
<rect x="553" y="168" width="2" height="7" fill="#000" shape-rendering="crispEdges"/>
<rect x="553" y="182" width="2" height="7" fill="#000" shape-rendering="crispEdges"/>
<rect x="553" y="195" width="2" height="7" fill="#000" shape-rendering="crispEdges"/>
<rect x="553" y="209" width="2" height="7" fill="#000" shape-rendering="crispEdges"/>
<rect x="553" y="223" width="2" height="6" fill="#000" shape-rendering="crispEdges"/>
<rect x="553" y="236" width="2" height="7" fill="#000" shape-rendering="crispEdges"/>
<rect x="553" y="250" width="2" height="7" fill="#000" shape-rendering="crispEdges"/>
<rect x="553" y="264" width="2" height="6" fill="#000" shape-rendering="crispEdges"/>
<rect x="553" y="277" width="2" height="7" fill="#000" shape-rendering="crispEdges"/>
<rect x="553" y="291" width="2" height="7" fill="#000" shape-rendering="crispEdges"/>
<rect x="553" y="304" width="2" height="7" fill="#000" shape-rendering="crispEdges"/>
<rect x="553" y="318" width="2" height="7" fill="#000" shape-rendering="crispEdges"/>
<rect x="553" y="332" width="2" height="6" fill="#000" shape-rendering="crispEdges"/>
<rect x="553" y="345" width="2" height="7" fill="#000" shape-rendering="crispEdges"/>
<rect x="553" y="359" width="2" height="7" fill="#000" shape-rendering="crispEdges"/>
<rect x="553" y="373" width="2" height="6" fill="#000" shape-rendering="crispEdges"/>
<rect x="553" y="386" width="2" height="7" fill="#000" shape-rendering="crispEdges"/>
<rect x="553" y="400" width="2" height="6" fill="#000" shape-rendering="crispEdges"/>
<rect x="553" y="413" width="2" height="7" fill="#000" shape-rendering="crispEdges"/>
<rect x="553" y="427" width="2" height="7" fill="#000" shape-rendering="crispEdges"/>
<rect x="553" y="441" width="2" height="6" fill="#000" shape-rendering="crispEdges"/>
<rect x="553" y="454" width="2" height="7" fill="#000" shape-rendering="crispEdges"/>
<rect x="553" y="468" width="2" height="4" fill="#000" shape-rendering="crispEdges"/>
<rect x="1063" y="73" width="2" height="7" fill="#000" shape-rendering="crispEdges"/>
<rect x="1063" y="87" width="2" height="6" fill="#000" shape-rendering="crispEdges"/>
<rect x="1063" y="100" width="2" height="7" fill="#000" shape-rendering="crispEdges"/>
<rect x="1063" y="114" width="2" height="6" fill="#000" shape-rendering="crispEdges"/>
<rect x="1063" y="127" width="2" height="7" fill="#000" shape-rendering="crispEdges"/>
<rect x="1063" y="141" width="2" height="7" fill="#000" shape-rendering="crispEdges"/>
<rect x="1063" y="155" width="2" height="6" fill="#000" shape-rendering="crispEdges"/>
<rect x="1063" y="168" width="2" height="7" fill="#000" shape-rendering="crispEdges"/>
<rect x="1063" y="182" width="2" height="7" fill="#000" shape-rendering="crispEdges"/>
<rect x="1063" y="195" width="2" height="7" fill="#000" shape-rendering="crispEdges"/>
<rect x="1063" y="209" width="2" height="7" fill="#000" shape-rendering="crispEdges"/>
<rect x="1063" y="223" width="2" height="6" fill="#000" shape-rendering="crispEdges"/>
<rect x="1063" y="236" width="2" height="7" fill="#000" shape-rendering="crispEdges"/>
<rect x="1063" y="250" width="2" height="7" fill="#000" shape-rendering="crispEdges"/>
<rect x="1063" y="264" width="2" height="6" fill="#000" shape-rendering="crispEdges"/>
<rect x="1063" y="277" width="2" height="7" fill="#000" shape-rendering="crispEdges"/>
<rect x="1063" y="291" width="2" height="7" fill="#000" shape-rendering="crispEdges"/>
<rect x="1063" y="304" width="2" height="7" fill="#000" shape-rendering="crispEdges"/>
<rect x="1063" y="318" width="2" height="7" fill="#000" shape-rendering="crispEdges"/>
<rect x="1063" y="332" width="2" height="6" fill="#000" shape-rendering="crispEdges"/>
<rect x="1063" y="345" width="2" height="7" fill="#000" shape-rendering="crispEdges"/>
<rect x="1063" y="359" width="2" height="7" fill="#000" shape-rendering="crispEdges"/>
<rect x="1063" y="373" width="2" height="6" fill="#000" shape-rendering="crispEdges"/>
<rect x="1063" y="386" width="2" height="7" fill="#000" shape-rendering="crispEdges"/>
<rect x="1063" y="400" width="2" height="6" fill="#000" shape-rendering="crispEdges"/>
<rect x="1063" y="413" width="2" height="7" fill="#000" shape-rendering="crispEdges"/>
<rect x="1063" y="427" width="2" height="7" fill="#000" shape-rendering="crispEdges"/>
<rect x="1063" y="441" width="2" height="6" fill="#000" shape-rendering="crispEdges"/>
<rect x="1063" y="454" width="2" height="7" fill="#000" shape-rendering="crispEdges"/>
<rect x="1063" y="468" width="2" height="4" fill="#000" shape-rendering="crispEdges"/>
<g shape-rendering="crispEdges">
<rect x="0" y="585" width="1570" height="20" fill="#000"/>
<rect x="3" y="587" width="22" height="16" fill="#503c99"/>
<rect x="25" y="587" width="25" height="16" fill="#49409c"/>
<rect x="50" y="587" width="24" height="16" fill="#42449f"/>
<rect x="74" y="587" width="25" height="16" fill="#3e48a1"/>
<rect x="99" y="587" width="24" height="16" fill="#3b4ca3"/>
<rect x="123" y="587" width="25" height="16" fill="#3950a4"/>
<rect x="148" y="587" width="24" height="16" fill="#3756a7"/>
<rect x="172" y="587" width="25" height="16" fill="#345dac"/>
<rect x="197" y="587" width="24" height="16" fill="#3064b1"/>
<rect x="221" y="587" width="25" height="16" fill="#2f6db5"/>
<rect x="246" y="587" width="24" height="16" fill="#2f77ba"/>
<rect x="270" y="587" width="25" height="16" fill="#2f81be"/>
<rect x="295" y="587" width="25" height="16" fill="#2e8dc1"/>
<rect x="320" y="587" width="24" height="16" fill="#2c98c3"/>
<rect x="344" y="587" width="25" height="16" fill="#2aa2c4"/>
<rect x="369" y="587" width="24" height="16" fill="#27aac3"/>
<rect x="393" y="587" width="25" height="16" fill="#26b1c3"/>
<rect x="418" y="587" width="24" height="16" fill="#33b7c0"/>
<rect x="442" y="587" width="25" height="16" fill="#3fbcbc"/>
<rect x="467" y="587" width="24" height="16" fill="#43baae"/>
<rect x="491" y="587" width="25" height="16" fill="#48b8a0"/>
<rect x="516" y="587" width="24" height="16" fill="#49b79b"/>
<rect x="540" y="587" width="25" height="16" fill="#4ab693"/>
<rect x="565" y="587" width="25" height="16" fill="#4bb586"/>
<rect x="590" y="587" width="24" height="16" fill="#4db47a"/>
<rect x="614" y="587" width="25" height="16" fill="#4eb36e"/>
<rect x="639" y="587" width="24" height="16" fill="#51b463"/>
<rect x="663" y="587" width="25" height="16" fill="#53b459"/>
<rect x="688" y="587" width="24" height="16" fill="#55b54e"/>
<rect x="712" y="587" width="25" height="16" fill="#56b546"/>
<rect x="737" y="587" width="24" height="16" fill="#57b53d"/>
<rect x="761" y="587" width="25" height="16" fill="#58b535"/>
<rect x="786" y="587" width="24" height="16" fill="#5ab533"/>
<rect x="810" y="587" width="25" height="16" fill="#5db530"/>
<rect x="835" y="587" width="25" height="16" fill="#5fb52e"/>
<rect x="860" y="587" width="24" height="16" fill="#65b62f"/>
<rect x="884" y="587" width="25" height="16" fill="#6ab730"/>
<rect x="909" y="587" width="24" height="16" fill="#70b831"/>
<rect x="933" y="587" width="25" height="16" fill="#77ba32"/>
<rect x="958" y="587" width="24" height="16" fill="#7fbe33"/>
<rect x="982" y="587" width="25" height="16" fill="#87c134"/>
<rect x="1007" y="587" width="24" height="16" fill="#90c534"/>
<rect x="1031" y="587" width="25" height="16" fill="#9ac933"/>
<rect x="1056" y="587" width="24" height="16" fill="#a4cd34"/>
<rect x="1080" y="587" width="25" height="16" fill="#afd036"/>
<rect x="1105" y="587" width="25" height="16" fill="#b9d439"/>
<rect x="1130" y="587" width="24" height="16" fill="#c7d938"/>
<rect x="1154" y="587" width="25" height="16" fill="#d9df33"/>
<rect x="1179" y="587" width="24" height="16" fill="#e6de2e"/>
<rect x="1203" y="587" width="25" height="16" fill="#ead127"/>
<rect x="1228" y="587" width="24" height="16" fill="#edc522"/>
<rect x="1252" y="587" width="25" height="16" fill="#edbb21"/>
<rect x="1277" y="587" width="24" height="16" fill="#edae1f"/>
<rect x="1301" y="587" width="25" height="16" fill="#eea01d"/>
<rect x="1326" y="587" width="24" height="16" fill="#ed901b"/>
<rect x="1350" y="587" width="25" height="16" fill="#ec8119"/>
<rect x="1375" y="587" width="24" height="16" fill="#eb7019"/>
<rect x="1399" y="587" width="25" height="16" fill="#ea5f1a"/>
<rect x="1424" y="587" width="25" height="16" fill="#e84f1b"/>
<rect x="1449" y="587" width="24" height="16" fill="#e7401a"/>
<rect x="1473" y="587" width="25" height="16" fill="#e6311a"/>
<rect x="1498" y="587" width="24" height="16" fill="#e4251b"/>
<rect x="1522" y="587" width="25" height="16" fill="#e2191c"/>
<rect x="1547" y="587" width="23" height="16" fill="#e61b1c"/>
<rect x="236" y="585" width="2" height="20" fill="#000"/>
<rect x="370" y="585" width="2" height="20" fill="#000"/>
<rect x="501" y="585" width="2" height="20" fill="#000"/>
<rect x="627" y="585" width="2" height="20" fill="#000"/>
<rect x="759" y="585" width="2" height="20" fill="#000"/>
<rect x="893" y="585" width="2" height="20" fill="#000"/>
<rect x="1024" y="585" width="2" height="20" fill="#000"/>
<rect x="1151" y="585" width="2" height="20" fill="#000"/>
<rect x="1283" y="585" width="2" height="20" fill="#000"/>
<rect x="1416" y="585" width="2" height="20" fill="#000"/>
<rect x="1547" y="585" width="3" height="20" fill="#000"/>
</g>
<rect x="1570" y="1" width="5" height="672" fill="#a8a8bc"/><rect x="1570" y="1" width="2" height="672" fill="#575772"/>
<g opacity="0.999">
<text x="44.7" y="508.0" font-size="38" textLength="16.0" lengthAdjust="spacingAndGlyphs" text-anchor="start">0</text>
<text x="536.0" y="508.0" font-size="38" textLength="32.5" lengthAdjust="spacingAndGlyphs" text-anchor="start">50</text>
<text x="1039.8" y="508.0" font-size="38" textLength="44.6" lengthAdjust="spacingAndGlyphs" text-anchor="start">100</text>
<text x="1523.0" y="508.0" font-size="38" textLength="46.0" lengthAdjust="spacingAndGlyphs" text-anchor="start">150</text>
<text x="2.0" y="549.0" font-size="38" textLength="81.0" lengthAdjust="spacingAndGlyphs" text-anchor="start">min=0</text>
<text x="615.0" y="548.0" font-size="38" textLength="338.0" lengthAdjust="spacingAndGlyphs" text-anchor="start">E max at[8.5,0.5]=35.4 lx</text>
<text x="1442.0" y="548.0" font-size="38" textLength="126.5" lengthAdjust="spacingAndGlyphs" text-anchor="start">max=35.4</text>
<text x="0.9" y="583.0" font-size="38" textLength="44.9" lengthAdjust="spacingAndGlyphs" text-anchor="start">[lx]</text>
<text x="213.8" y="583.0" font-size="38" textLength="40.8" lengthAdjust="spacingAndGlyphs" text-anchor="start">0.1</text>
<text x="339.5" y="583.0" font-size="38" textLength="59.0" lengthAdjust="spacingAndGlyphs" text-anchor="start">0.18</text>
<text x="467.7" y="583.0" font-size="38" textLength="62.5" lengthAdjust="spacingAndGlyphs" text-anchor="start">0.32</text>
<text x="598.4" y="583.0" font-size="38" textLength="57.0" lengthAdjust="spacingAndGlyphs" text-anchor="start">0.56</text>
<text x="753.6" y="583.0" font-size="38" textLength="13.0" lengthAdjust="spacingAndGlyphs" text-anchor="start">1</text>
<text x="872.9" y="583.0" font-size="38" textLength="39.6" lengthAdjust="spacingAndGlyphs" text-anchor="start">1.8</text>
<text x="1002.9" y="583.0" font-size="38" textLength="43.8" lengthAdjust="spacingAndGlyphs" text-anchor="start">3.2</text>
<text x="1128.1" y="583.0" font-size="38" textLength="42.8" lengthAdjust="spacingAndGlyphs" text-anchor="start">5.6</text>
<text x="1267.6" y="583.0" font-size="38" textLength="29.4" lengthAdjust="spacingAndGlyphs" text-anchor="start">10</text>
<text x="1401.2" y="583.0" font-size="38" textLength="29.6" lengthAdjust="spacingAndGlyphs" text-anchor="start">18</text>
<text x="1529.8" y="583.0" font-size="38" textLength="34.3" lengthAdjust="spacingAndGlyphs" text-anchor="start">32</text>
<text transform="translate(41,99) rotate(-90)" font-size="38" textLength="31" lengthAdjust="spacingAndGlyphs">20</text>
<text transform="translate(41,470) rotate(-90)" font-size="38" textLength="41" lengthAdjust="spacingAndGlyphs">-20</text>
</g>
</svg></body></html>
